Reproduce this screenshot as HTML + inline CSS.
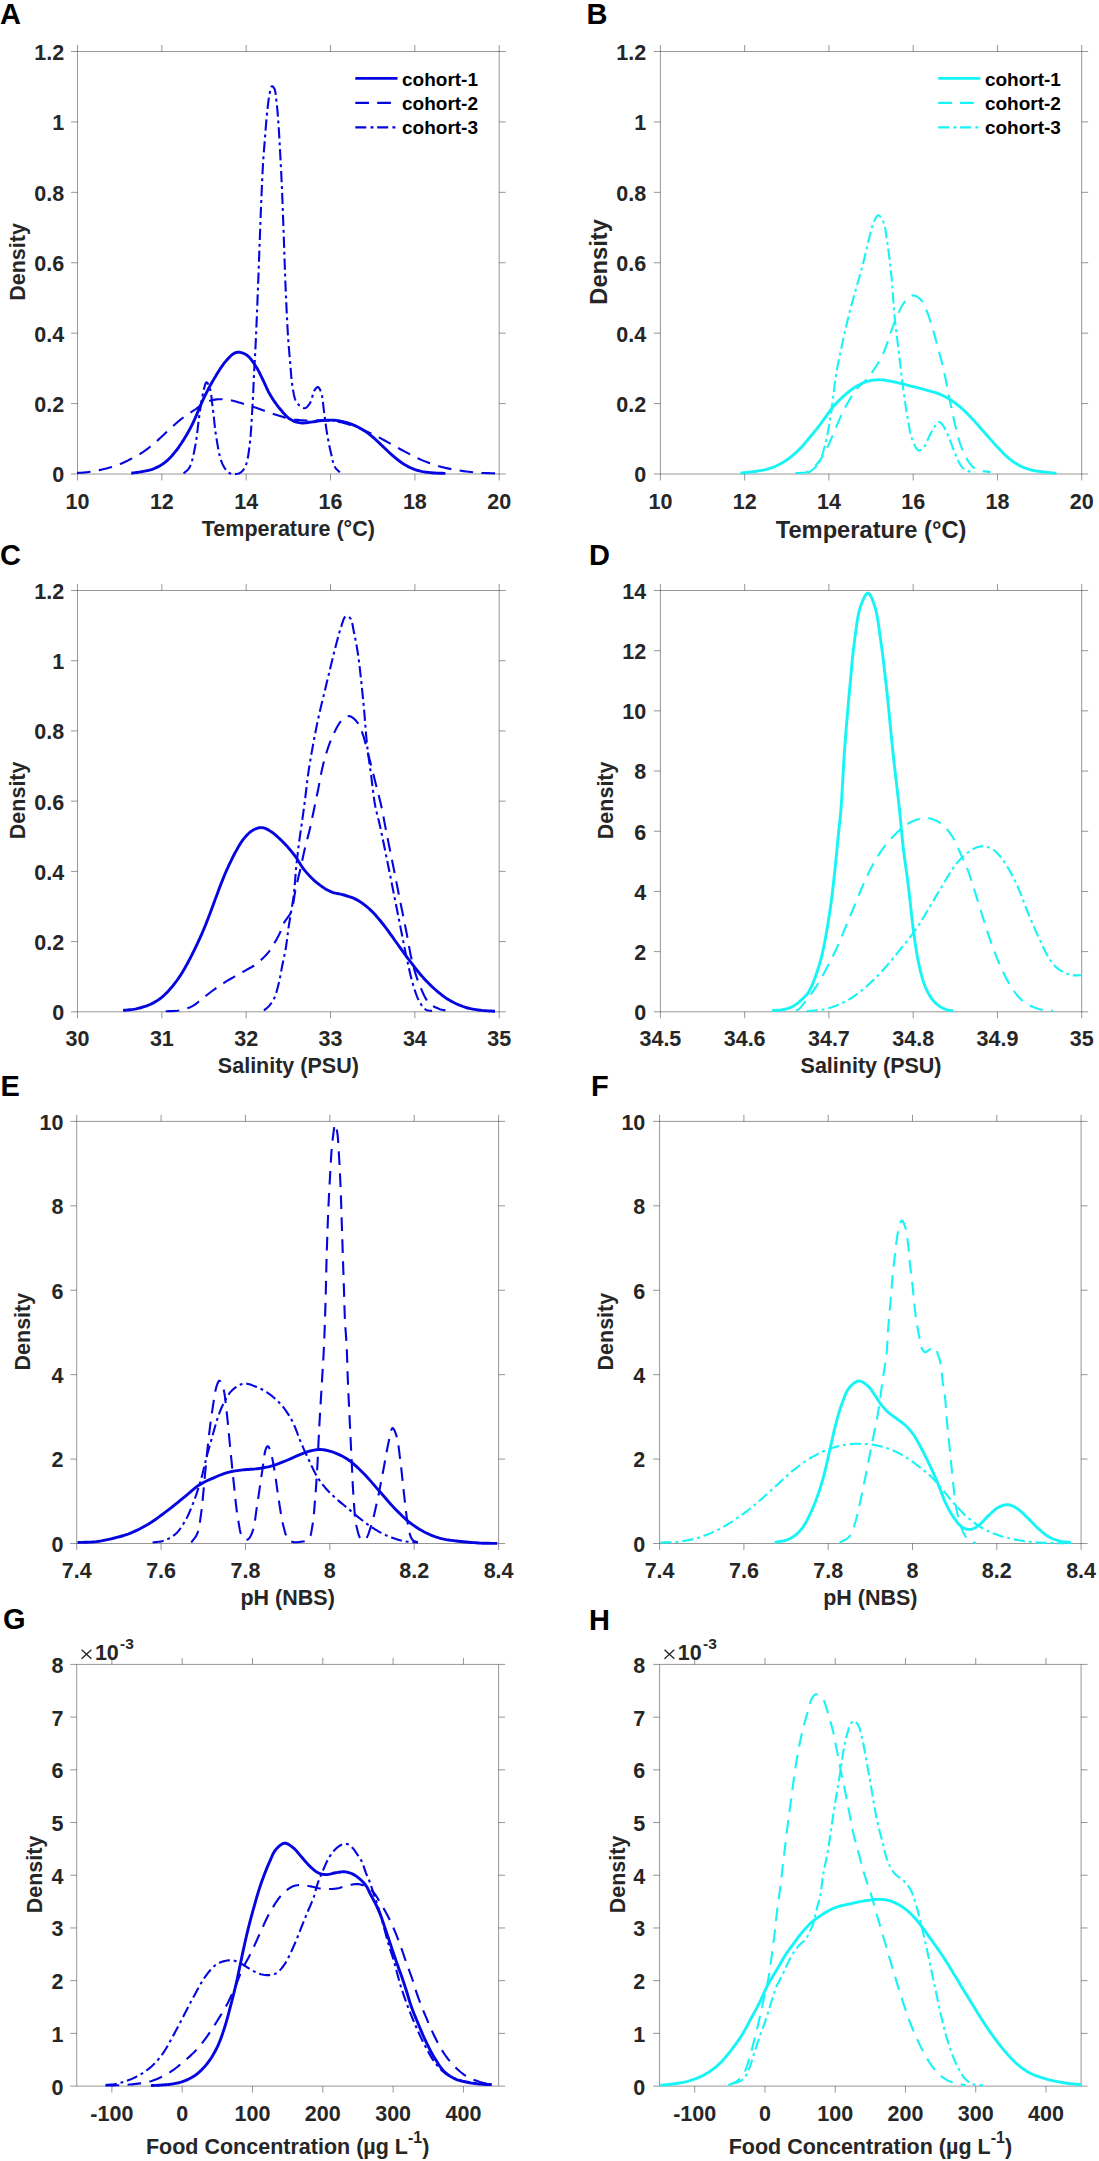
<!DOCTYPE html>
<html><head><meta charset="utf-8"><style>
html,body{margin:0;padding:0;background:#fff;}
svg{display:block;}
.t{font-family:"Liberation Sans",sans-serif;font-weight:bold;font-size:21.5px;fill:#262626;}
.L{font-family:"Liberation Sans",sans-serif;font-weight:bold;font-size:29px;fill:#000;}
.lg{font-family:"Liberation Sans",sans-serif;font-weight:bold;font-size:19px;fill:#000;}
</style></head><body>
<svg width="1099" height="2161" viewBox="0 0 1099 2161">
<rect width="1099" height="2161" fill="#fff"/>
<path d="M77.5,51.5H499.2V474.0H77.5ZM77.50,474.0v6.5M77.50,51.5v-6.5M161.84,474.0v6.5M161.84,51.5v-6.5M246.18,474.0v6.5M246.18,51.5v-6.5M330.52,474.0v6.5M330.52,51.5v-6.5M414.86,474.0v6.5M414.86,51.5v-6.5M499.20,474.0v6.5M499.20,51.5v-6.5M77.5,474.00h-6.5M499.2,474.00h6.5M77.5,403.58h-6.5M499.2,403.58h6.5M77.5,333.17h-6.5M499.2,333.17h6.5M77.5,262.75h-6.5M499.2,262.75h6.5M77.5,192.33h-6.5M499.2,192.33h6.5M77.5,121.92h-6.5M499.2,121.92h6.5M77.5,51.50h-6.5M499.2,51.50h6.5" fill="none" stroke="#262626" stroke-width="1" stroke-opacity="0.48"/>
<path d="M131.30,473.20 L132.61,473.02 L133.92,472.85 L135.23,472.68 L136.54,472.51 L137.85,472.34 L139.16,472.15 L140.48,471.94 L141.80,471.70 L143.18,471.44 L144.58,471.17 L145.99,470.90 L147.39,470.60 L148.79,470.28 L150.16,469.92 L151.50,469.53 L152.80,469.10 L153.96,468.66 L155.11,468.19 L156.22,467.69 L157.32,467.17 L158.39,466.61 L159.45,466.03 L160.48,465.43 L161.50,464.80 L162.48,464.16 L163.43,463.49 L164.37,462.80 L165.28,462.08 L166.18,461.34 L167.07,460.58 L167.94,459.80 L168.80,459.00 L169.66,458.16 L170.51,457.29 L171.34,456.39 L172.16,455.48 L172.96,454.55 L173.75,453.60 L174.53,452.65 L175.30,451.70 L176.06,450.74 L176.81,449.77 L177.54,448.79 L178.26,447.80 L178.98,446.80 L179.68,445.78 L180.39,444.75 L181.10,443.70 L181.86,442.56 L182.61,441.40 L183.36,440.22 L184.11,439.02 L184.85,437.82 L185.58,436.61 L186.30,435.40 L187.00,434.20 L187.68,433.02 L188.34,431.84 L188.99,430.65 L189.64,429.47 L190.27,428.28 L190.89,427.09 L191.50,425.89 L192.10,424.70 L192.67,423.53 L193.24,422.35 L193.79,421.17 L194.33,419.99 L194.86,418.81 L195.38,417.63 L195.89,416.46 L196.40,415.30 L196.86,414.21 L197.30,413.15 L197.73,412.10 L198.15,411.05 L198.58,409.99 L199.02,408.90 L199.49,407.78 L200.00,406.60 L200.69,405.03 L201.42,403.39 L202.18,401.69 L202.97,399.95 L203.79,398.18 L204.63,396.39 L205.50,394.59 L206.40,392.80 L207.43,390.79 L208.51,388.74 L209.63,386.65 L210.78,384.56 L211.95,382.47 L213.13,380.40 L214.32,378.37 L215.50,376.40 L216.60,374.59 L217.71,372.78 L218.82,370.99 L219.94,369.22 L221.07,367.50 L222.22,365.83 L223.40,364.23 L224.60,362.70 L225.70,361.37 L226.83,360.02 L227.98,358.70 L229.15,357.44 L230.31,356.26 L231.47,355.20 L232.60,354.31 L233.70,353.60 L234.40,353.23 L235.08,352.93 L235.75,352.68 L236.42,352.50 L237.09,352.37 L237.77,352.29 L238.47,352.27 L239.20,352.30 L240.15,352.41 L241.15,352.61 L242.18,352.89 L243.22,353.25 L244.27,353.70 L245.31,354.22 L246.33,354.82 L247.30,355.50 L248.53,356.55 L249.75,357.82 L250.94,359.24 L252.11,360.79 L253.24,362.41 L254.33,364.07 L255.39,365.71 L256.40,367.30 L257.33,368.83 L258.21,370.37 L259.04,371.94 L259.84,373.52 L260.63,375.12 L261.41,376.73 L262.19,378.36 L263.00,380.00 L263.86,381.77 L264.69,383.58 L265.50,385.42 L266.33,387.26 L267.17,389.12 L268.05,390.96 L268.99,392.79 L270.00,394.60 L271.16,396.52 L272.39,398.46 L273.68,400.41 L275.02,402.34 L276.38,404.23 L277.76,406.07 L279.14,407.83 L280.50,409.50 L281.65,410.88 L282.79,412.24 L283.93,413.57 L285.09,414.84 L286.26,416.05 L287.46,417.17 L288.70,418.19 L290.00,419.10 L291.23,419.83 L292.50,420.49 L293.80,421.08 L295.13,421.59 L296.48,422.03 L297.84,422.39 L299.22,422.68 L300.60,422.90 L302.03,423.02 L303.49,423.01 L304.96,422.91 L306.45,422.74 L307.94,422.53 L309.43,422.30 L310.92,422.08 L312.40,421.90 L313.87,421.73 L315.33,421.53 L316.79,421.31 L318.25,421.09 L319.71,420.87 L321.17,420.68 L322.63,420.52 L324.10,420.40 L325.57,420.31 L327.05,420.24 L328.53,420.18 L330.01,420.15 L331.48,420.15 L332.96,420.19 L334.43,420.27 L335.90,420.40 L337.37,420.58 L338.85,420.80 L340.32,421.06 L341.78,421.35 L343.24,421.69 L344.70,422.06 L346.15,422.46 L347.60,422.90 L349.08,423.38 L350.56,423.90 L352.04,424.46 L353.50,425.05 L354.97,425.68 L356.42,426.35 L357.86,427.06 L359.30,427.80 L360.81,428.63 L362.31,429.51 L363.80,430.43 L365.28,431.39 L366.75,432.39 L368.22,433.42 L369.66,434.50 L371.10,435.60 L372.60,436.83 L374.08,438.12 L375.55,439.46 L377.00,440.84 L378.45,442.24 L379.89,443.64 L381.34,445.03 L382.80,446.40 L384.26,447.76 L385.71,449.15 L387.16,450.54 L388.61,451.93 L390.06,453.30 L391.53,454.64 L393.00,455.95 L394.50,457.20 L395.94,458.36 L397.39,459.51 L398.85,460.63 L400.32,461.72 L401.79,462.77 L403.28,463.77 L404.79,464.72 L406.30,465.60 L407.72,466.37 L409.15,467.09 L410.58,467.76 L412.03,468.39 L413.48,468.98 L414.96,469.53 L416.47,470.03 L418.00,470.50 L419.64,470.94 L421.32,471.32 L423.02,471.65 L424.75,471.94 L426.49,472.19 L428.23,472.41 L429.97,472.61 L431.70,472.80 L433.41,472.96 L435.12,473.07 L436.83,473.15 L438.54,473.20 L440.26,473.25 L441.97,473.29 L443.69,473.34 L445.40,473.40" fill="none" stroke="#0505e0" stroke-width="2.9" stroke-linejoin="round"/>
<path d="M77.00,473.00 L78.44,472.88 L79.88,472.78 L81.31,472.68 L82.75,472.58 L84.19,472.47 L85.64,472.34 L87.11,472.18 L88.60,472.00 L90.25,471.77 L91.93,471.51 L93.63,471.23 L95.35,470.92 L97.07,470.59 L98.79,470.25 L100.50,469.88 L102.20,469.50 L103.91,469.10 L105.62,468.69 L107.33,468.25 L109.03,467.80 L110.73,467.32 L112.43,466.82 L114.12,466.28 L115.80,465.70 L117.51,465.07 L119.21,464.40 L120.90,463.71 L122.59,462.97 L124.28,462.22 L125.95,461.43 L127.63,460.63 L129.30,459.80 L131.02,458.93 L132.74,458.05 L134.45,457.14 L136.16,456.20 L137.86,455.24 L139.55,454.23 L141.23,453.19 L142.90,452.10 L144.64,450.90 L146.36,449.65 L148.08,448.35 L149.78,447.01 L151.47,445.64 L153.15,444.24 L154.83,442.83 L156.50,441.40 L158.21,439.89 L159.91,438.34 L161.59,436.75 L163.26,435.15 L164.94,433.53 L166.62,431.93 L168.30,430.35 L170.00,428.80 L171.69,427.29 L173.39,425.77 L175.10,424.26 L176.81,422.76 L178.52,421.29 L180.23,419.87 L181.92,418.50 L183.60,417.20 L185.08,416.12 L186.55,415.10 L188.03,414.12 L189.49,413.18 L190.95,412.26 L192.39,411.35 L193.81,410.43 L195.20,409.50 L196.45,408.61 L197.65,407.70 L198.83,406.77 L200.00,405.86 L201.17,404.98 L202.37,404.15 L203.61,403.38 L204.90,402.70 L206.25,402.09 L207.64,401.53 L209.07,401.03 L210.51,400.58 L211.99,400.19 L213.48,399.86 L214.98,399.60 L216.50,399.40 L218.15,399.27 L219.84,399.23 L221.56,399.26 L223.30,399.36 L225.04,399.52 L226.76,399.71 L228.45,399.95 L230.10,400.20 L231.60,400.47 L233.06,400.80 L234.50,401.16 L235.92,401.56 L237.34,401.98 L238.77,402.42 L240.22,402.86 L241.70,403.30 L243.35,403.78 L245.03,404.27 L246.73,404.78 L248.44,405.31 L250.16,405.84 L251.88,406.38 L253.60,406.94 L255.30,407.50 L257.00,408.08 L258.71,408.69 L260.41,409.31 L262.11,409.94 L263.80,410.57 L265.50,411.19 L267.20,411.81 L268.90,412.40 L270.61,412.98 L272.34,413.57 L274.09,414.16 L275.84,414.74 L277.56,415.30 L279.24,415.84 L280.86,416.34 L282.40,416.80 L283.54,417.13 L284.61,417.45 L285.63,417.75 L286.63,418.03 L287.64,418.29 L288.67,418.54 L289.75,418.78 L290.90,419.00 L292.43,419.26 L294.03,419.49 L295.68,419.69 L297.38,419.87 L299.13,420.03 L300.92,420.18 L302.75,420.30 L304.60,420.40 L306.87,420.47 L309.23,420.47 L311.66,420.42 L314.13,420.36 L316.64,420.30 L319.15,420.27 L321.64,420.29 L324.10,420.40 L326.54,420.56 L328.97,420.73 L331.40,420.93 L333.83,421.18 L336.26,421.49 L338.72,421.87 L341.19,422.33 L343.70,422.90 L346.60,423.69 L349.59,424.64 L352.63,425.71 L355.68,426.87 L358.70,428.08 L361.66,429.31 L364.50,430.53 L367.20,431.70 L369.31,432.64 L371.32,433.58 L373.25,434.52 L375.13,435.47 L376.99,436.44 L378.87,437.43 L380.80,438.44 L382.80,439.50 L385.15,440.76 L387.55,442.07 L389.99,443.44 L392.46,444.82 L394.95,446.22 L397.44,447.61 L399.93,448.98 L402.40,450.30 L404.83,451.59 L407.25,452.88 L409.68,454.16 L412.10,455.43 L414.54,456.67 L416.98,457.87 L419.43,459.02 L421.90,460.10 L424.32,461.10 L426.75,462.06 L429.19,462.97 L431.64,463.85 L434.10,464.68 L436.56,465.46 L439.03,466.21 L441.50,466.90 L443.93,467.53 L446.37,468.11 L448.82,468.65 L451.27,469.14 L453.73,469.60 L456.19,470.02 L458.64,470.42 L461.10,470.80 L463.55,471.15 L466.02,471.46 L468.50,471.75 L470.97,472.00 L473.44,472.23 L475.87,472.44 L478.26,472.63 L480.60,472.80 L482.64,472.93 L484.64,473.03 L486.61,473.11 L488.55,473.17 L490.49,473.22 L492.41,473.28 L494.35,473.33 L496.30,473.40" fill="none" stroke="#0505e0" stroke-width="2.1" stroke-dasharray="13.6 8.4" stroke-linejoin="round"/>
<path d="M183.60,473.40 L184.34,472.71 L185.09,472.08 L185.85,471.46 L186.61,470.84 L187.35,470.17 L188.07,469.43 L188.76,468.59 L189.40,467.60 L190.36,465.66 L191.23,463.39 L192.01,460.85 L192.73,458.09 L193.39,455.20 L194.02,452.23 L194.61,449.24 L195.20,446.30 L195.83,442.87 L196.38,439.29 L196.87,435.60 L197.31,431.84 L197.74,428.08 L198.17,424.35 L198.62,420.71 L199.10,417.20 L199.55,414.12 L200.00,411.02 L200.44,407.95 L200.90,404.93 L201.36,401.99 L201.85,399.17 L202.36,396.49 L202.90,394.00 L203.31,392.18 L203.73,390.25 L204.15,388.31 L204.59,386.48 L205.05,384.85 L205.51,383.54 L206.00,382.66 L206.50,382.30 L206.89,382.41 L207.31,382.79 L207.75,383.40 L208.19,384.18 L208.63,385.09 L209.05,386.08 L209.44,387.10 L209.80,388.10 L210.33,389.92 L210.77,392.00 L211.14,394.30 L211.46,396.77 L211.76,399.37 L212.05,402.05 L212.36,404.77 L212.70,407.50 L213.15,411.05 L213.58,414.82 L214.00,418.74 L214.42,422.76 L214.87,426.81 L215.36,430.82 L215.89,434.74 L216.50,438.50 L217.07,441.88 L217.64,445.31 L218.23,448.74 L218.86,452.11 L219.56,455.35 L220.35,458.40 L221.25,461.20 L222.30,463.70 L223.10,465.29 L223.95,466.83 L224.85,468.28 L225.80,469.62 L226.79,470.83 L227.84,471.88 L228.94,472.75 L230.10,473.40 L231.21,473.80 L232.43,474.06 L233.71,474.18 L235.02,474.17 L236.33,474.04 L237.58,473.80 L238.75,473.45 L239.80,473.00 L240.72,472.45 L241.57,471.77 L242.36,470.98 L243.09,470.08 L243.77,469.10 L244.41,468.03 L245.02,466.89 L245.60,465.70 L246.36,463.82 L246.99,461.74 L247.52,459.49 L247.98,457.08 L248.39,454.54 L248.76,451.88 L249.12,449.13 L249.50,446.30 L250.01,442.10 L250.46,437.55 L250.85,432.74 L251.20,427.74 L251.52,422.64 L251.82,417.52 L252.11,412.44 L252.40,407.50 L252.69,402.60 L252.95,397.60 L253.20,392.57 L253.43,387.56 L253.65,382.63 L253.87,377.82 L254.08,373.19 L254.30,368.80 L254.47,365.60 L254.64,362.62 L254.80,359.78 L254.96,357.01 L255.11,354.22 L255.27,351.34 L255.44,348.30 L255.60,345.00 L255.83,340.07 L256.07,334.81 L256.31,329.27 L256.55,323.54 L256.79,317.67 L257.03,311.75 L257.27,305.84 L257.50,300.00 L257.74,293.88 L257.98,287.69 L258.22,281.44 L258.46,275.16 L258.69,268.87 L258.93,262.56 L259.16,256.27 L259.40,250.00 L259.64,243.70 L259.87,237.33 L260.10,230.93 L260.34,224.55 L260.57,218.22 L260.81,211.99 L261.05,205.91 L261.30,200.00 L261.51,195.00 L261.73,190.07 L261.94,185.21 L262.15,180.44 L262.38,175.77 L262.61,171.21 L262.85,166.79 L263.10,162.50 L263.32,159.12 L263.55,155.86 L263.78,152.69 L264.02,149.60 L264.26,146.55 L264.51,143.54 L264.75,140.53 L265.00,137.50 L265.23,134.62 L265.45,131.76 L265.67,128.91 L265.90,126.09 L266.13,123.28 L266.37,120.50 L266.63,117.74 L266.90,115.00 L267.17,112.38 L267.44,109.72 L267.72,107.04 L268.02,104.40 L268.33,101.83 L268.66,99.38 L269.01,97.09 L269.40,95.00 L269.67,93.62 L269.94,92.18 L270.21,90.75 L270.49,89.41 L270.80,88.21 L271.13,87.24 L271.49,86.57 L271.90,86.25 L272.18,86.25 L272.50,86.38 L272.83,86.62 L273.17,86.95 L273.51,87.35 L273.83,87.79 L274.13,88.27 L274.40,88.75 L274.80,89.72 L275.12,90.88 L275.38,92.20 L275.59,93.65 L275.77,95.19 L275.93,96.78 L276.11,98.39 L276.30,100.00 L276.56,102.08 L276.81,104.24 L277.04,106.47 L277.26,108.77 L277.48,111.16 L277.69,113.61 L277.89,116.14 L278.10,118.75 L278.36,122.26 L278.61,125.94 L278.85,129.76 L279.09,133.70 L279.32,137.72 L279.55,141.80 L279.77,145.90 L280.00,150.00 L280.25,154.49 L280.49,159.01 L280.74,163.57 L280.98,168.20 L281.21,172.89 L281.45,177.67 L281.68,182.53 L281.90,187.50 L282.15,193.41 L282.40,199.49 L282.64,205.72 L282.88,212.05 L283.11,218.43 L283.34,224.83 L283.57,231.20 L283.80,237.50 L284.03,243.75 L284.24,250.00 L284.45,256.25 L284.66,262.50 L284.88,268.75 L285.10,275.00 L285.34,281.25 L285.60,287.50 L285.88,293.89 L286.17,300.48 L286.47,307.15 L286.79,313.78 L287.11,320.25 L287.44,326.44 L287.77,332.23 L288.10,337.50 L288.31,340.63 L288.53,343.50 L288.74,346.19 L288.95,348.76 L289.17,351.28 L289.40,353.83 L289.64,356.48 L289.90,359.30 L290.20,362.84 L290.49,366.61 L290.78,370.51 L291.10,374.44 L291.44,378.32 L291.83,382.05 L292.28,385.54 L292.80,388.70 L293.17,390.73 L293.52,392.68 L293.88,394.56 L294.27,396.35 L294.72,398.04 L295.26,399.62 L295.91,401.08 L296.70,402.40 L297.50,403.45 L298.42,404.50 L299.42,405.50 L300.49,406.41 L301.57,407.18 L302.64,407.76 L303.66,408.12 L304.60,408.20 L305.41,408.01 L306.20,407.58 L306.98,406.95 L307.73,406.18 L308.46,405.29 L309.15,404.34 L309.80,403.36 L310.40,402.40 L311.04,401.12 L311.58,399.63 L312.03,398.01 L312.44,396.34 L312.84,394.69 L313.26,393.13 L313.73,391.74 L314.30,390.60 L314.71,389.96 L315.15,389.32 L315.61,388.71 L316.09,388.16 L316.56,387.70 L317.02,387.35 L317.47,387.14 L317.90,387.10 L318.36,387.28 L318.81,387.67 L319.25,388.25 L319.68,388.97 L320.09,389.80 L320.48,390.70 L320.85,391.65 L321.20,392.60 L321.74,394.44 L322.19,396.59 L322.56,398.98 L322.88,401.55 L323.18,404.23 L323.46,406.94 L323.76,409.62 L324.10,412.20 L324.47,414.85 L324.83,417.53 L325.18,420.24 L325.53,422.96 L325.90,425.68 L326.27,428.38 L326.67,431.06 L327.10,433.70 L327.53,436.21 L327.99,438.73 L328.46,441.25 L328.94,443.74 L329.44,446.20 L329.95,448.60 L330.47,450.94 L331.00,453.20 L331.44,455.08 L331.86,456.97 L332.27,458.84 L332.70,460.65 L333.17,462.39 L333.67,464.03 L334.25,465.54 L334.90,466.90 L335.43,467.76 L336.00,468.53 L336.61,469.23 L337.24,469.88 L337.89,470.50 L338.53,471.11 L339.18,471.74 L339.80,472.40" fill="none" stroke="#0505e0" stroke-width="2.1" stroke-dasharray="11.2 3.9 2.9 3.9" stroke-linejoin="round"/>
<text x="77.50" y="508.50" text-anchor="middle" class="t">10</text>
<text x="161.84" y="508.50" text-anchor="middle" class="t">12</text>
<text x="246.18" y="508.50" text-anchor="middle" class="t">14</text>
<text x="330.52" y="508.50" text-anchor="middle" class="t">16</text>
<text x="414.86" y="508.50" text-anchor="middle" class="t">18</text>
<text x="499.20" y="508.50" text-anchor="middle" class="t">20</text>
<text x="64.20" y="482.40" text-anchor="end" class="t">0</text>
<text x="64.20" y="411.98" text-anchor="end" class="t">0.2</text>
<text x="64.20" y="341.57" text-anchor="end" class="t">0.4</text>
<text x="64.20" y="271.15" text-anchor="end" class="t">0.6</text>
<text x="64.20" y="200.73" text-anchor="end" class="t">0.8</text>
<text x="64.20" y="130.32" text-anchor="end" class="t">1</text>
<text x="64.20" y="59.90" text-anchor="end" class="t">1.2</text>
<text x="288.35" y="535.50" text-anchor="middle" class="t">Temperature (°C)</text>
<text transform="translate(24.70,261.95) rotate(-90)" text-anchor="middle" class="t">Density</text>
<text x="0" y="24" class="L">A</text>
<path d="M660.4,51.5H1081.7V474.0H660.4ZM660.40,474.0v6.5M660.40,51.5v-6.5M744.66,474.0v6.5M744.66,51.5v-6.5M828.92,474.0v6.5M828.92,51.5v-6.5M913.18,474.0v6.5M913.18,51.5v-6.5M997.44,474.0v6.5M997.44,51.5v-6.5M1081.70,474.0v6.5M1081.70,51.5v-6.5M660.4,474.00h-6.5M1081.7,474.00h6.5M660.4,403.58h-6.5M1081.7,403.58h6.5M660.4,333.17h-6.5M1081.7,333.17h6.5M660.4,262.75h-6.5M1081.7,262.75h6.5M660.4,192.33h-6.5M1081.7,192.33h6.5M660.4,121.92h-6.5M1081.7,121.92h6.5M660.4,51.50h-6.5M1081.7,51.50h6.5" fill="none" stroke="#262626" stroke-width="1" stroke-opacity="0.48"/>
<path d="M740.40,473.20 L742.17,473.00 L743.95,472.80 L745.72,472.61 L747.50,472.42 L749.27,472.22 L751.05,472.01 L752.82,471.77 L754.60,471.50 L756.41,471.22 L758.23,470.94 L760.05,470.65 L761.88,470.33 L763.69,469.99 L765.51,469.59 L767.31,469.13 L769.10,468.60 L770.96,467.98 L772.81,467.30 L774.66,466.57 L776.50,465.78 L778.33,464.93 L780.14,464.02 L781.93,463.04 L783.70,462.00 L785.59,460.79 L787.47,459.47 L789.34,458.07 L791.19,456.61 L793.00,455.09 L794.78,453.54 L796.52,451.97 L798.20,450.40 L799.78,448.86 L801.30,447.28 L802.78,445.67 L804.23,444.03 L805.65,442.37 L807.06,440.69 L808.47,439.00 L809.90,437.30 L811.37,435.53 L812.84,433.75 L814.29,431.95 L815.74,430.13 L817.19,428.29 L818.63,426.44 L820.07,424.58 L821.50,422.70 L822.97,420.72 L824.42,418.69 L825.86,416.62 L827.30,414.55 L828.74,412.49 L830.20,410.48 L831.69,408.54 L833.20,406.70 L834.60,405.10 L836.02,403.55 L837.45,402.04 L838.89,400.58 L840.35,399.15 L841.82,397.77 L843.31,396.42 L844.80,395.10 L846.22,393.88 L847.66,392.67 L849.10,391.50 L850.56,390.35 L852.02,389.26 L853.50,388.21 L854.99,387.22 L856.50,386.30 L857.91,385.49 L859.34,384.73 L860.78,384.01 L862.22,383.33 L863.68,382.71 L865.15,382.14 L866.62,381.64 L868.10,381.20 L869.53,380.84 L870.96,380.53 L872.39,380.28 L873.83,380.09 L875.29,379.94 L876.77,379.85 L878.27,379.80 L879.80,379.80 L881.57,379.87 L883.39,380.04 L885.24,380.27 L887.11,380.56 L889.00,380.90 L890.88,381.26 L892.75,381.63 L894.60,382.00 L896.43,382.38 L898.24,382.80 L900.06,383.24 L901.87,383.71 L903.67,384.18 L905.48,384.66 L907.29,385.14 L909.10,385.60 L910.92,386.05 L912.75,386.51 L914.58,386.96 L916.41,387.41 L918.23,387.87 L920.06,388.33 L921.88,388.81 L923.70,389.30 L925.53,389.80 L927.38,390.29 L929.23,390.78 L931.08,391.29 L932.91,391.81 L934.72,392.37 L936.48,392.96 L938.20,393.60 L939.75,394.22 L941.26,394.87 L942.74,395.54 L944.20,396.24 L945.64,396.97 L947.06,397.74 L948.48,398.55 L949.90,399.40 L951.39,400.35 L952.87,401.36 L954.33,402.41 L955.78,403.50 L957.23,404.63 L958.66,405.79 L960.08,406.98 L961.50,408.20 L963.00,409.53 L964.48,410.91 L965.95,412.33 L967.42,413.79 L968.87,415.27 L970.32,416.77 L971.76,418.28 L973.20,419.80 L974.67,421.38 L976.13,422.99 L977.58,424.63 L979.02,426.28 L980.46,427.94 L981.91,429.60 L983.35,431.26 L984.80,432.90 L986.26,434.55 L987.71,436.20 L989.17,437.86 L990.63,439.52 L992.09,441.16 L993.55,442.80 L995.02,444.41 L996.50,446.00 L997.93,447.53 L999.36,449.07 L1000.78,450.60 L1002.22,452.11 L1003.66,453.59 L1005.12,455.02 L1006.60,456.40 L1008.10,457.70 L1009.51,458.86 L1010.94,459.98 L1012.39,461.06 L1013.85,462.09 L1015.32,463.08 L1016.80,464.01 L1018.30,464.89 L1019.80,465.70 L1021.23,466.40 L1022.69,467.05 L1024.17,467.66 L1025.65,468.21 L1027.13,468.72 L1028.59,469.19 L1030.02,469.61 L1031.40,470.00 L1032.51,470.28 L1033.56,470.51 L1034.58,470.71 L1035.59,470.88 L1036.62,471.03 L1037.68,471.18 L1038.80,471.33 L1040.00,471.50 L1041.80,471.74 L1043.73,471.97 L1045.76,472.20 L1047.87,472.42 L1050.02,472.64 L1052.18,472.86 L1054.31,473.08 L1056.40,473.30" fill="none" stroke="#16f4f5" stroke-width="2.9" stroke-linejoin="round"/>
<path d="M795.30,473.20 L796.96,473.04 L798.65,472.95 L800.35,472.89 L802.05,472.82 L803.72,472.68 L805.34,472.45 L806.91,472.07 L808.40,471.50 L809.85,470.71 L811.23,469.76 L812.56,468.67 L813.84,467.46 L815.08,466.16 L816.28,464.80 L817.45,463.41 L818.60,462.00 L819.82,460.41 L820.98,458.74 L822.10,457.01 L823.18,455.21 L824.22,453.35 L825.25,451.44 L826.28,449.49 L827.30,447.50 L828.46,445.14 L829.58,442.66 L830.68,440.11 L831.77,437.50 L832.84,434.86 L833.92,432.23 L835.00,429.64 L836.10,427.10 L837.16,424.69 L838.20,422.30 L839.24,419.93 L840.28,417.56 L841.34,415.21 L842.44,412.86 L843.59,410.53 L844.80,408.20 L846.12,405.76 L847.51,403.27 L848.94,400.76 L850.41,398.28 L851.91,395.85 L853.44,393.52 L854.97,391.33 L856.50,389.30 L857.75,387.82 L859.04,386.47 L860.34,385.21 L861.65,384.01 L862.96,382.83 L864.24,381.65 L865.49,380.41 L866.70,379.10 L867.87,377.72 L869.00,376.33 L870.11,374.93 L871.20,373.49 L872.27,372.03 L873.32,370.53 L874.36,368.99 L875.40,367.40 L876.56,365.56 L877.71,363.65 L878.86,361.69 L879.98,359.68 L881.08,357.63 L882.14,355.57 L883.15,353.49 L884.10,351.40 L884.99,349.28 L885.79,347.13 L886.55,344.96 L887.26,342.77 L887.97,340.56 L888.68,338.35 L889.41,336.12 L890.20,333.90 L891.06,331.54 L891.93,329.13 L892.82,326.69 L893.72,324.24 L894.64,321.83 L895.57,319.46 L896.53,317.18 L897.50,315.00 L898.34,313.18 L899.18,311.39 L900.02,309.62 L900.87,307.91 L901.76,306.26 L902.69,304.70 L903.66,303.24 L904.70,301.90 L905.62,300.82 L906.58,299.72 L907.58,298.66 L908.60,297.68 L909.64,296.82 L910.70,296.12 L911.75,295.64 L912.80,295.40 L913.80,295.43 L914.84,295.66 L915.89,296.07 L916.95,296.63 L917.99,297.31 L918.99,298.06 L919.93,298.87 L920.80,299.70 L921.71,300.74 L922.54,301.91 L923.29,303.19 L924.00,304.56 L924.66,306.01 L925.31,307.51 L925.95,309.05 L926.60,310.60 L927.40,312.56 L928.16,314.62 L928.90,316.76 L929.61,318.97 L930.31,321.23 L931.01,323.51 L931.70,325.81 L932.40,328.10 L933.15,330.56 L933.89,333.05 L934.62,335.56 L935.34,338.10 L936.06,340.67 L936.78,343.26 L937.49,345.87 L938.20,348.50 L938.96,351.32 L939.71,354.15 L940.46,357.00 L941.21,359.88 L941.95,362.79 L942.68,365.74 L943.40,368.75 L944.10,371.80 L944.86,375.29 L945.60,378.87 L946.32,382.53 L947.03,386.24 L947.74,389.96 L948.45,393.66 L949.17,397.32 L949.90,400.90 L950.61,404.27 L951.31,407.63 L952.02,410.98 L952.73,414.31 L953.46,417.59 L954.19,420.83 L954.94,424.00 L955.70,427.10 L956.38,429.81 L957.04,432.49 L957.71,435.13 L958.39,437.73 L959.10,440.27 L959.85,442.75 L960.64,445.16 L961.50,447.50 L962.30,449.50 L963.13,451.48 L963.99,453.43 L964.89,455.32 L965.82,457.14 L966.78,458.87 L967.77,460.49 L968.80,462.00 L969.62,463.12 L970.43,464.20 L971.25,465.21 L972.09,466.16 L972.98,467.05 L973.94,467.88 L974.97,468.63 L976.10,469.30 L977.61,469.97 L979.28,470.47 L981.08,470.85 L982.96,471.15 L984.89,471.39 L986.83,471.62 L988.74,471.88 L990.60,472.20" fill="none" stroke="#16f4f5" stroke-width="2.1" stroke-dasharray="13.6 8.4" stroke-linejoin="round"/>
<path d="M808.40,473.20 L809.71,472.02 L811.06,470.88 L812.43,469.77 L813.79,468.64 L815.12,467.48 L816.38,466.25 L817.55,464.93 L818.60,463.50 L819.60,461.80 L820.48,460.01 L821.24,458.14 L821.93,456.17 L822.56,454.13 L823.16,452.00 L823.77,449.79 L824.40,447.50 L825.24,444.34 L826.04,441.01 L826.80,437.52 L827.54,433.90 L828.25,430.16 L828.94,426.32 L829.63,422.39 L830.30,418.40 L831.09,413.31 L831.82,407.90 L832.53,402.28 L833.21,396.55 L833.89,390.82 L834.59,385.20 L835.32,379.79 L836.10,374.70 L836.77,370.78 L837.46,367.03 L838.16,363.40 L838.87,359.85 L839.60,356.34 L840.35,352.82 L841.12,349.26 L841.90,345.60 L842.75,341.65 L843.62,337.62 L844.51,333.56 L845.43,329.48 L846.35,325.42 L847.29,321.40 L848.24,317.45 L849.20,313.60 L850.08,310.18 L850.98,306.83 L851.90,303.53 L852.82,300.28 L853.74,297.04 L854.67,293.81 L855.59,290.57 L856.50,287.30 L857.41,284.02 L858.33,280.73 L859.26,277.44 L860.17,274.16 L861.09,270.87 L861.98,267.60 L862.85,264.34 L863.70,261.10 L864.49,257.94 L865.26,254.73 L866.01,251.50 L866.74,248.30 L867.46,245.15 L868.18,242.10 L868.89,239.17 L869.60,236.40 L870.13,234.34 L870.64,232.32 L871.14,230.35 L871.63,228.45 L872.14,226.63 L872.68,224.90 L873.26,223.29 L873.90,221.80 L874.39,220.74 L874.91,219.64 L875.44,218.56 L876.00,217.55 L876.56,216.66 L877.13,215.96 L877.72,215.48 L878.30,215.30 L878.92,215.44 L879.58,215.88 L880.26,216.56 L880.95,217.42 L881.62,218.43 L882.26,219.53 L882.86,220.67 L883.40,221.80 L884.10,223.61 L884.66,225.64 L885.13,227.87 L885.54,230.25 L885.89,232.76 L886.24,235.38 L886.60,238.07 L887.00,240.80 L887.58,244.63 L888.17,248.71 L888.75,252.98 L889.32,257.41 L889.87,261.94 L890.41,266.53 L890.92,271.13 L891.40,275.70 L891.87,280.66 L892.28,285.73 L892.66,290.87 L893.01,296.05 L893.37,301.23 L893.74,306.39 L894.14,311.49 L894.60,316.50 L895.08,321.15 L895.59,325.75 L896.12,330.31 L896.67,334.83 L897.23,339.34 L897.79,343.85 L898.35,348.36 L898.90,352.90 L899.44,357.48 L899.98,362.10 L900.52,366.73 L901.06,371.36 L901.61,375.95 L902.16,380.49 L902.72,384.95 L903.30,389.30 L903.82,393.13 L904.35,396.93 L904.88,400.69 L905.42,404.39 L905.97,408.02 L906.54,411.57 L907.11,415.04 L907.70,418.40 L908.18,421.17 L908.63,423.92 L909.08,426.61 L909.54,429.24 L910.04,431.79 L910.60,434.25 L911.25,436.59 L912.00,438.80 L912.68,440.58 L913.42,442.45 L914.21,444.30 L915.04,446.06 L915.91,447.64 L916.79,448.95 L917.69,449.90 L918.60,450.40 L919.21,450.47 L919.85,450.37 L920.49,450.12 L921.15,449.75 L921.80,449.28 L922.45,448.73 L923.08,448.13 L923.70,447.50 L924.67,446.24 L925.59,444.64 L926.48,442.80 L927.35,440.79 L928.21,438.71 L929.10,436.64 L930.02,434.68 L931.00,432.90 L931.95,431.29 L932.94,429.53 L933.96,427.74 L934.99,426.02 L936.03,424.47 L937.05,423.22 L938.05,422.36 L939.00,422.00 L939.67,422.09 L940.34,422.42 L940.99,422.95 L941.64,423.64 L942.27,424.45 L942.90,425.32 L943.51,426.22 L944.10,427.10 L944.90,428.40 L945.67,429.87 L946.41,431.47 L947.12,433.17 L947.82,434.92 L948.51,436.71 L949.20,438.48 L949.90,440.20 L950.63,441.99 L951.36,443.83 L952.07,445.69 L952.78,447.56 L953.49,449.43 L954.21,451.26 L954.95,453.06 L955.70,454.80 L956.39,456.37 L957.06,457.96 L957.74,459.55 L958.43,461.11 L959.14,462.60 L959.88,464.00 L960.67,465.27 L961.50,466.40 L962.16,467.15 L962.83,467.83 L963.52,468.45 L964.23,469.02 L964.97,469.53 L965.72,470.00 L966.50,470.42 L967.30,470.80 L968.14,471.12 L969.02,471.37 L969.93,471.55 L970.86,471.69 L971.80,471.81 L972.74,471.92 L973.68,472.05 L974.60,472.20" fill="none" stroke="#16f4f5" stroke-width="2.1" stroke-dasharray="11.2 3.9 2.9 3.9" stroke-linejoin="round"/>
<text x="660.40" y="508.50" text-anchor="middle" class="t">10</text>
<text x="744.66" y="508.50" text-anchor="middle" class="t">12</text>
<text x="828.92" y="508.50" text-anchor="middle" class="t">14</text>
<text x="913.18" y="508.50" text-anchor="middle" class="t">16</text>
<text x="997.44" y="508.50" text-anchor="middle" class="t">18</text>
<text x="1081.70" y="508.50" text-anchor="middle" class="t">20</text>
<text x="646.10" y="482.40" text-anchor="end" class="t">0</text>
<text x="646.10" y="411.98" text-anchor="end" class="t">0.2</text>
<text x="646.10" y="341.57" text-anchor="end" class="t">0.4</text>
<text x="646.10" y="271.15" text-anchor="end" class="t">0.6</text>
<text x="646.10" y="200.73" text-anchor="end" class="t">0.8</text>
<text x="646.10" y="130.32" text-anchor="end" class="t">1</text>
<text x="646.10" y="59.90" text-anchor="end" class="t">1.2</text>
<text x="871.05" y="538.00" text-anchor="middle" class="t" style="font-size:23.7px">Temperature (°C)</text>
<text transform="translate(606.9,261.95) rotate(-90)" text-anchor="middle" class="t" style="font-size:23.7px">Density</text>
<text x="586.6" y="24" class="L">B</text>
<path d="M77.5,590.5H499.2V1011.8H77.5ZM77.50,1011.8v6.5M77.50,590.5v-6.5M161.84,1011.8v6.5M161.84,590.5v-6.5M246.18,1011.8v6.5M246.18,590.5v-6.5M330.52,1011.8v6.5M330.52,590.5v-6.5M414.86,1011.8v6.5M414.86,590.5v-6.5M499.20,1011.8v6.5M499.20,590.5v-6.5M77.5,1011.80h-6.5M499.2,1011.80h6.5M77.5,941.58h-6.5M499.2,941.58h6.5M77.5,871.37h-6.5M499.2,871.37h6.5M77.5,801.15h-6.5M499.2,801.15h6.5M77.5,730.93h-6.5M499.2,730.93h6.5M77.5,660.72h-6.5M499.2,660.72h6.5M77.5,590.50h-6.5M499.2,590.50h6.5" fill="none" stroke="#262626" stroke-width="1" stroke-opacity="0.48"/>
<path d="M123.10,1010.50 L124.74,1010.30 L126.37,1010.13 L128.01,1009.97 L129.64,1009.80 L131.28,1009.61 L132.92,1009.39 L134.56,1009.13 L136.20,1008.80 L137.94,1008.40 L139.70,1007.97 L141.47,1007.50 L143.23,1006.98 L144.98,1006.43 L146.71,1005.83 L148.38,1005.19 L150.00,1004.50 L151.46,1003.82 L152.89,1003.12 L154.27,1002.38 L155.63,1001.60 L156.97,1000.78 L158.29,999.91 L159.60,998.98 L160.90,998.00 L162.33,996.83 L163.75,995.58 L165.16,994.26 L166.55,992.88 L167.91,991.46 L169.24,990.01 L170.54,988.55 L171.80,987.10 L173.00,985.67 L174.16,984.21 L175.29,982.74 L176.40,981.24 L177.48,979.73 L178.53,978.20 L179.57,976.66 L180.60,975.10 L181.61,973.52 L182.60,971.92 L183.56,970.32 L184.50,968.69 L185.43,967.05 L186.35,965.39 L187.28,963.70 L188.20,962.00 L189.19,960.15 L190.17,958.26 L191.16,956.35 L192.13,954.41 L193.10,952.47 L194.05,950.53 L194.98,948.60 L195.90,946.70 L196.75,944.91 L197.59,943.15 L198.41,941.40 L199.22,939.65 L200.02,937.89 L200.81,936.12 L201.61,934.33 L202.40,932.50 L203.24,930.52 L204.08,928.51 L204.91,926.47 L205.74,924.42 L206.56,922.35 L207.38,920.27 L208.19,918.19 L209.00,916.10 L209.83,913.94 L210.64,911.77 L211.45,909.58 L212.26,907.39 L213.07,905.19 L213.88,902.99 L214.68,900.79 L215.50,898.60 L216.32,896.40 L217.14,894.19 L217.95,891.98 L218.77,889.76 L219.60,887.56 L220.43,885.38 L221.26,883.22 L222.10,881.10 L222.89,879.14 L223.68,877.21 L224.47,875.30 L225.27,873.41 L226.07,871.53 L226.89,869.66 L227.74,867.78 L228.60,865.90 L229.51,863.96 L230.43,862.01 L231.38,860.05 L232.34,858.10 L233.31,856.17 L234.30,854.26 L235.30,852.40 L236.30,850.60 L237.21,848.99 L238.11,847.40 L239.02,845.82 L239.94,844.29 L240.88,842.79 L241.85,841.33 L242.85,839.93 L243.90,838.60 L244.90,837.41 L245.93,836.24 L246.98,835.09 L248.06,834.00 L249.16,832.97 L250.29,832.01 L251.43,831.15 L252.60,830.40 L253.65,829.81 L254.73,829.27 L255.83,828.78 L256.94,828.36 L258.07,828.02 L259.19,827.77 L260.30,827.63 L261.40,827.60 L262.48,827.69 L263.54,827.90 L264.60,828.20 L265.65,828.60 L266.71,829.08 L267.79,829.63 L268.88,830.24 L270.00,830.90 L271.63,831.96 L273.32,833.20 L275.06,834.61 L276.82,836.13 L278.58,837.73 L280.31,839.36 L281.99,841.00 L283.60,842.60 L285.11,844.15 L286.58,845.73 L288.02,847.33 L289.42,848.96 L290.80,850.61 L292.15,852.29 L293.48,853.99 L294.80,855.70 L296.09,857.48 L297.31,859.32 L298.49,861.19 L299.66,863.08 L300.84,864.96 L302.06,866.82 L303.33,868.64 L304.70,870.40 L306.18,872.16 L307.73,873.91 L309.33,875.64 L310.98,877.34 L312.66,878.99 L314.36,880.57 L316.08,882.08 L317.80,883.50 L319.38,884.73 L320.98,885.92 L322.59,887.05 L324.22,888.13 L325.87,889.14 L327.53,890.07 L329.21,890.93 L330.90,891.70 L332.50,892.30 L334.12,892.79 L335.76,893.18 L337.41,893.52 L339.07,893.84 L340.72,894.17 L342.37,894.54 L344.00,895.00 L345.66,895.51 L347.31,896.02 L348.97,896.55 L350.62,897.10 L352.27,897.70 L353.90,898.36 L355.51,899.09 L357.10,899.90 L358.80,900.88 L360.48,901.94 L362.14,903.08 L363.79,904.29 L365.42,905.56 L367.03,906.89 L368.62,908.28 L370.20,909.70 L371.91,911.33 L373.59,913.05 L375.24,914.85 L376.88,916.71 L378.50,918.61 L380.11,920.55 L381.71,922.52 L383.30,924.50 L384.98,926.64 L386.63,928.83 L388.27,931.08 L389.90,933.35 L391.52,935.65 L393.14,937.94 L394.77,940.23 L396.40,942.50 L398.03,944.76 L399.67,947.03 L401.30,949.30 L402.93,951.57 L404.56,953.83 L406.20,956.08 L407.84,958.30 L409.50,960.50 L411.11,962.62 L412.73,964.73 L414.35,966.84 L415.97,968.92 L417.61,970.98 L419.26,973.00 L420.92,974.98 L422.60,976.90 L424.19,978.66 L425.80,980.40 L427.42,982.10 L429.05,983.76 L430.69,985.39 L432.35,986.97 L434.02,988.51 L435.70,990.00 L437.28,991.36 L438.87,992.68 L440.45,993.97 L442.05,995.22 L443.68,996.43 L445.34,997.59 L447.04,998.72 L448.80,999.80 L450.70,1000.89 L452.67,1001.95 L454.69,1002.98 L456.74,1003.95 L458.81,1004.87 L460.89,1005.72 L462.96,1006.50 L465.00,1007.20 L466.87,1007.77 L468.75,1008.26 L470.62,1008.68 L472.49,1009.05 L474.37,1009.38 L476.24,1009.67 L478.12,1009.94 L480.00,1010.20 L481.87,1010.43 L483.74,1010.61 L485.62,1010.75 L487.49,1010.87 L489.37,1010.97 L491.25,1011.07 L493.12,1011.18 L495.00,1011.30" fill="none" stroke="#0505e0" stroke-width="2.9" stroke-linejoin="round"/>
<path d="M165.70,1011.30 L167.34,1011.22 L168.98,1011.17 L170.63,1011.14 L172.27,1011.10 L173.91,1011.03 L175.55,1010.92 L177.18,1010.75 L178.80,1010.50 L180.46,1010.18 L182.12,1009.82 L183.78,1009.41 L185.44,1008.95 L187.08,1008.43 L188.71,1007.84 L190.32,1007.16 L191.90,1006.40 L193.60,1005.43 L195.26,1004.32 L196.91,1003.10 L198.53,1001.80 L200.14,1000.46 L201.75,999.10 L203.37,997.77 L205.00,996.50 L206.63,995.26 L208.26,994.01 L209.89,992.76 L211.52,991.51 L213.16,990.27 L214.80,989.05 L216.44,987.86 L218.10,986.70 L219.72,985.61 L221.35,984.54 L222.98,983.50 L224.62,982.47 L226.26,981.47 L227.90,980.47 L229.55,979.48 L231.20,978.50 L232.84,977.54 L234.49,976.59 L236.16,975.64 L237.82,974.71 L239.48,973.79 L241.11,972.89 L242.73,971.99 L244.30,971.10 L245.71,970.31 L247.13,969.54 L248.54,968.78 L249.92,968.03 L251.27,967.29 L252.58,966.53 L253.83,965.77 L255.00,965.00 L255.89,964.37 L256.72,963.76 L257.50,963.15 L258.26,962.54 L259.00,961.90 L259.74,961.24 L260.50,960.55 L261.30,959.80 L262.33,958.81 L263.41,957.74 L264.52,956.62 L265.63,955.46 L266.72,954.27 L267.77,953.07 L268.78,951.87 L269.70,950.70 L270.45,949.67 L271.15,948.65 L271.81,947.63 L272.44,946.60 L273.05,945.56 L273.65,944.50 L274.27,943.42 L274.90,942.30 L275.64,941.00 L276.40,939.64 L277.17,938.24 L277.93,936.83 L278.68,935.41 L279.40,934.00 L280.07,932.63 L280.70,931.30 L281.17,930.21 L281.58,929.15 L281.95,928.12 L282.30,927.09 L282.66,926.06 L283.05,925.03 L283.49,923.98 L284.00,922.90 L284.75,921.60 L285.61,920.32 L286.55,919.04 L287.54,917.74 L288.52,916.39 L289.47,914.96 L290.34,913.44 L291.10,911.80 L291.93,909.39 L292.61,906.74 L293.18,903.91 L293.67,900.95 L294.12,897.94 L294.57,894.94 L295.05,892.00 L295.60,889.20 L296.16,886.70 L296.72,884.24 L297.30,881.82 L297.88,879.42 L298.46,877.02 L299.04,874.61 L299.62,872.18 L300.20,869.70 L300.80,867.03 L301.40,864.31 L301.99,861.56 L302.59,858.79 L303.18,856.04 L303.78,853.31 L304.39,850.62 L305.00,848.00 L305.57,845.66 L306.16,843.35 L306.75,841.07 L307.35,838.82 L307.94,836.59 L308.51,834.38 L309.07,832.19 L309.60,830.00 L310.06,828.00 L310.50,826.06 L310.91,824.15 L311.32,822.25 L311.72,820.33 L312.13,818.36 L312.55,816.33 L313.00,814.20 L313.58,811.44 L314.19,808.56 L314.81,805.59 L315.45,802.55 L316.09,799.46 L316.74,796.35 L317.37,793.26 L318.00,790.20 L318.62,787.08 L319.22,783.92 L319.81,780.73 L320.40,777.55 L321.01,774.38 L321.63,771.25 L322.29,768.19 L323.00,765.20 L323.68,762.54 L324.38,759.91 L325.10,757.31 L325.84,754.75 L326.61,752.24 L327.39,749.79 L328.19,747.41 L329.00,745.10 L329.70,743.19 L330.42,741.33 L331.15,739.52 L331.89,737.75 L332.64,736.02 L333.41,734.34 L334.20,732.70 L335.00,731.10 L335.70,729.72 L336.40,728.34 L337.10,726.99 L337.82,725.68 L338.56,724.41 L339.35,723.22 L340.19,722.11 L341.10,721.10 L341.99,720.22 L342.94,719.34 L343.93,718.48 L344.96,717.70 L346.01,717.03 L347.06,716.51 L348.09,716.19 L349.10,716.10 L350.13,716.28 L351.18,716.70 L352.24,717.33 L353.28,718.12 L354.31,719.03 L355.30,720.02 L356.23,721.06 L357.10,722.10 L358.05,723.41 L358.92,724.87 L359.73,726.45 L360.48,728.11 L361.18,729.84 L361.84,731.60 L362.48,733.36 L363.10,735.10 L363.71,736.91 L364.26,738.77 L364.77,740.65 L365.24,742.56 L365.70,744.47 L366.15,746.39 L366.62,748.30 L367.10,750.20 L367.60,752.06 L368.09,753.90 L368.59,755.73 L369.08,757.57 L369.58,759.42 L370.08,761.30 L370.58,763.22 L371.10,765.20 L371.70,767.56 L372.32,770.00 L372.94,772.49 L373.57,775.02 L374.21,777.57 L374.84,780.13 L375.47,782.68 L376.10,785.20 L376.73,787.68 L377.36,790.12 L377.99,792.55 L378.62,794.99 L379.25,797.45 L379.87,799.96 L380.49,802.54 L381.10,805.20 L381.79,808.42 L382.47,811.72 L383.13,815.11 L383.79,818.57 L384.45,822.08 L385.12,825.63 L385.80,829.21 L386.50,832.80 L387.29,836.76 L388.10,840.78 L388.92,844.86 L389.76,848.97 L390.60,853.11 L391.44,857.26 L392.28,861.39 L393.10,865.50 L393.92,869.60 L394.73,873.70 L395.54,877.80 L396.35,881.90 L397.16,886.00 L397.97,890.10 L398.78,894.20 L399.60,898.30 L400.42,902.39 L401.24,906.48 L402.07,910.56 L402.90,914.65 L403.73,918.74 L404.56,922.82 L405.38,926.91 L406.20,931.00 L407.00,935.13 L407.76,939.32 L408.51,943.53 L409.27,947.72 L410.05,951.88 L410.87,955.97 L411.74,959.95 L412.70,963.80 L413.60,967.10 L414.54,970.37 L415.51,973.59 L416.52,976.73 L417.57,979.79 L418.65,982.75 L419.76,985.59 L420.90,988.30 L421.83,990.42 L422.75,992.52 L423.69,994.56 L424.65,996.52 L425.66,998.38 L426.73,1000.11 L427.87,1001.69 L429.10,1003.10 L430.20,1004.12 L431.39,1005.02 L432.64,1005.83 L433.92,1006.56 L435.21,1007.21 L436.49,1007.79 L437.73,1008.32 L438.90,1008.80 L439.77,1009.13 L440.61,1009.39 L441.44,1009.61 L442.25,1009.80 L443.06,1009.97 L443.87,1010.13 L444.68,1010.30 L445.50,1010.50" fill="none" stroke="#0505e0" stroke-width="2.1" stroke-dasharray="13.6 8.4" stroke-linejoin="round"/>
<path d="M263.90,1010.50 L264.54,1009.95 L265.19,1009.42 L265.84,1008.90 L266.49,1008.38 L267.13,1007.84 L267.77,1007.27 L268.39,1006.66 L269.00,1006.00 L269.71,1005.16 L270.42,1004.28 L271.12,1003.35 L271.80,1002.38 L272.46,1001.37 L273.10,1000.30 L273.72,999.18 L274.30,998.00 L274.99,996.40 L275.63,994.67 L276.23,992.83 L276.79,990.93 L277.32,988.98 L277.83,987.01 L278.32,985.04 L278.80,983.10 L279.27,981.13 L279.69,979.14 L280.09,977.15 L280.47,975.14 L280.84,973.12 L281.21,971.07 L281.59,969.00 L282.00,966.90 L282.48,964.56 L282.98,962.18 L283.49,959.76 L284.00,957.32 L284.51,954.86 L285.01,952.40 L285.47,949.94 L285.90,947.50 L286.28,945.06 L286.63,942.59 L286.96,940.12 L287.26,937.64 L287.56,935.18 L287.86,932.75 L288.17,930.35 L288.50,928.00 L288.81,925.90 L289.13,923.84 L289.46,921.81 L289.79,919.80 L290.12,917.81 L290.44,915.81 L290.77,913.81 L291.10,911.80 L291.43,909.81 L291.76,907.86 L292.10,905.94 L292.43,904.00 L292.77,902.03 L293.09,899.99 L293.40,897.85 L293.70,895.60 L294.07,892.35 L294.41,888.85 L294.73,885.18 L295.04,881.39 L295.34,877.56 L295.64,873.75 L295.96,870.05 L296.30,866.50 L296.62,863.43 L296.94,860.41 L297.27,857.44 L297.60,854.51 L297.94,851.60 L298.28,848.72 L298.64,845.86 L299.00,843.00 L299.35,840.32 L299.72,837.68 L300.10,835.06 L300.48,832.45 L300.86,829.86 L301.24,827.26 L301.63,824.64 L302.00,822.00 L302.38,819.28 L302.76,816.57 L303.14,813.85 L303.51,811.12 L303.89,808.37 L304.26,805.61 L304.63,802.82 L305.00,800.00 L305.37,796.99 L305.73,793.96 L306.08,790.91 L306.42,787.84 L306.78,784.74 L307.15,781.60 L307.56,778.42 L308.00,775.20 L308.53,771.57 L309.10,767.87 L309.70,764.11 L310.33,760.32 L310.97,756.50 L311.64,752.68 L312.32,748.88 L313.00,745.10 L313.70,741.32 L314.42,737.52 L315.15,733.71 L315.90,729.91 L316.66,726.14 L317.44,722.40 L318.22,718.71 L319.00,715.10 L319.73,711.86 L320.47,708.68 L321.21,705.55 L321.97,702.45 L322.73,699.37 L323.49,696.29 L324.25,693.21 L325.00,690.10 L325.75,686.96 L326.51,683.79 L327.27,680.60 L328.03,677.43 L328.78,674.27 L329.53,671.16 L330.27,668.09 L331.00,665.10 L331.64,662.47 L332.27,659.89 L332.89,657.35 L333.50,654.84 L334.11,652.35 L334.73,649.89 L335.36,647.44 L336.00,645.00 L336.62,642.66 L337.23,640.30 L337.86,637.95 L338.48,635.61 L339.12,633.33 L339.77,631.11 L340.42,629.00 L341.10,627.00 L341.62,625.43 L342.12,623.79 L342.62,622.15 L343.13,620.58 L343.67,619.16 L344.25,617.95 L344.89,617.04 L345.60,616.50 L346.11,616.34 L346.68,616.31 L347.27,616.38 L347.87,616.54 L348.48,616.80 L349.06,617.13 L349.61,617.54 L350.10,618.00 L350.86,619.10 L351.49,620.57 L352.02,622.33 L352.47,624.32 L352.88,626.46 L353.27,628.67 L353.67,630.87 L354.10,633.00 L354.65,635.53 L355.19,638.16 L355.71,640.86 L356.23,643.63 L356.72,646.44 L357.20,649.29 L357.66,652.15 L358.10,655.00 L358.54,658.04 L358.95,661.10 L359.33,664.18 L359.70,667.30 L360.05,670.44 L360.40,673.62 L360.75,676.84 L361.10,680.10 L361.49,683.70 L361.88,687.36 L362.26,691.05 L362.63,694.79 L363.00,698.56 L363.37,702.37 L363.74,706.22 L364.10,710.10 L364.48,714.36 L364.84,718.72 L365.18,723.15 L365.53,727.60 L365.89,732.05 L366.26,736.48 L366.66,740.84 L367.10,745.10 L367.54,748.98 L368.02,752.79 L368.51,756.56 L369.03,760.30 L369.55,764.02 L370.07,767.73 L370.59,771.46 L371.10,775.20 L371.59,778.99 L372.05,782.84 L372.51,786.70 L372.98,790.56 L373.45,794.37 L373.96,798.10 L374.50,801.72 L375.10,805.20 L375.64,807.96 L376.22,810.58 L376.82,813.11 L377.44,815.58 L378.07,818.06 L378.72,820.59 L379.36,823.22 L380.00,826.00 L380.79,829.60 L381.59,833.35 L382.40,837.23 L383.22,841.20 L384.04,845.22 L384.87,849.27 L385.69,853.31 L386.50,857.30 L387.33,861.36 L388.16,865.45 L388.98,869.54 L389.81,873.65 L390.63,877.77 L391.46,881.88 L392.28,886.00 L393.10,890.10 L393.92,894.19 L394.73,898.28 L395.54,902.36 L396.35,906.45 L397.16,910.54 L397.97,914.62 L398.78,918.71 L399.60,922.80 L400.42,926.92 L401.23,931.06 L402.05,935.22 L402.87,939.37 L403.69,943.50 L404.52,947.60 L405.35,951.63 L406.20,955.60 L406.98,959.23 L407.76,962.87 L408.53,966.48 L409.32,970.05 L410.12,973.55 L410.95,976.96 L411.80,980.25 L412.70,983.40 L413.45,985.91 L414.21,988.39 L414.98,990.81 L415.77,993.17 L416.59,995.42 L417.45,997.56 L418.35,999.56 L419.30,1001.40 L420.04,1002.68 L420.79,1003.92 L421.56,1005.11 L422.36,1006.22 L423.18,1007.24 L424.03,1008.16 L424.90,1008.95 L425.80,1009.60 L426.53,1009.98 L427.28,1010.26 L428.05,1010.45 L428.84,1010.57 L429.63,1010.67 L430.43,1010.75 L431.22,1010.85 L432.00,1011.00" fill="none" stroke="#0505e0" stroke-width="2.1" stroke-dasharray="11.2 3.9 2.9 3.9" stroke-linejoin="round"/>
<text x="77.50" y="1046.30" text-anchor="middle" class="t">30</text>
<text x="161.84" y="1046.30" text-anchor="middle" class="t">31</text>
<text x="246.18" y="1046.30" text-anchor="middle" class="t">32</text>
<text x="330.52" y="1046.30" text-anchor="middle" class="t">33</text>
<text x="414.86" y="1046.30" text-anchor="middle" class="t">34</text>
<text x="499.20" y="1046.30" text-anchor="middle" class="t">35</text>
<text x="64.20" y="1020.20" text-anchor="end" class="t">0</text>
<text x="64.20" y="949.98" text-anchor="end" class="t">0.2</text>
<text x="64.20" y="879.77" text-anchor="end" class="t">0.4</text>
<text x="64.20" y="809.55" text-anchor="end" class="t">0.6</text>
<text x="64.20" y="739.33" text-anchor="end" class="t">0.8</text>
<text x="64.20" y="669.12" text-anchor="end" class="t">1</text>
<text x="64.20" y="598.90" text-anchor="end" class="t">1.2</text>
<text x="288.35" y="1073.30" text-anchor="middle" class="t">Salinity (PSU)</text>
<text transform="translate(24.80,800.35) rotate(-90)" text-anchor="middle" class="t">Density</text>
<text x="0" y="564.8" class="L">C</text>
<path d="M660.4,590.5H1081.7V1011.8H660.4ZM660.40,1011.8v6.5M660.40,590.5v-6.5M744.66,1011.8v6.5M744.66,590.5v-6.5M828.92,1011.8v6.5M828.92,590.5v-6.5M913.18,1011.8v6.5M913.18,590.5v-6.5M997.44,1011.8v6.5M997.44,590.5v-6.5M1081.70,1011.8v6.5M1081.70,590.5v-6.5M660.4,1011.80h-6.5M1081.7,1011.80h6.5M660.4,951.61h-6.5M1081.7,951.61h6.5M660.4,891.43h-6.5M1081.7,891.43h6.5M660.4,831.24h-6.5M1081.7,831.24h6.5M660.4,771.06h-6.5M1081.7,771.06h6.5M660.4,710.87h-6.5M1081.7,710.87h6.5M660.4,650.69h-6.5M1081.7,650.69h6.5M660.4,590.50h-6.5M1081.7,590.50h6.5" fill="none" stroke="#262626" stroke-width="1" stroke-opacity="0.48"/>
<path d="M772.10,1010.60 L773.34,1010.51 L774.60,1010.44 L775.86,1010.37 L777.12,1010.30 L778.37,1010.22 L779.60,1010.12 L780.81,1009.98 L782.00,1009.80 L783.08,1009.60 L784.16,1009.38 L785.22,1009.14 L786.27,1008.88 L787.29,1008.60 L788.29,1008.29 L789.26,1007.96 L790.20,1007.60 L790.99,1007.26 L791.76,1006.91 L792.50,1006.54 L793.22,1006.15 L793.92,1005.74 L794.62,1005.31 L795.31,1004.87 L796.00,1004.40 L796.71,1003.89 L797.41,1003.37 L798.10,1002.82 L798.78,1002.25 L799.46,1001.66 L800.13,1001.06 L800.81,1000.44 L801.50,999.80 L802.28,999.08 L803.08,998.35 L803.88,997.61 L804.69,996.84 L805.48,996.04 L806.25,995.21 L806.99,994.33 L807.70,993.40 L808.46,992.27 L809.18,991.07 L809.87,989.82 L810.52,988.52 L811.16,987.18 L811.78,985.80 L812.39,984.41 L813.00,983.00 L813.67,981.39 L814.32,979.72 L814.95,978.01 L815.57,976.26 L816.17,974.50 L816.76,972.73 L817.33,970.96 L817.90,969.20 L818.46,967.45 L819.00,965.71 L819.53,963.97 L820.05,962.23 L820.56,960.46 L821.05,958.68 L821.53,956.86 L822.00,955.00 L822.49,952.93 L822.96,950.87 L823.41,948.78 L823.85,946.66 L824.28,944.48 L824.71,942.22 L825.15,939.87 L825.60,937.40 L826.23,933.87 L826.88,930.09 L827.55,926.14 L828.21,922.05 L828.87,917.88 L829.51,913.70 L830.12,909.55 L830.70,905.50 L831.24,901.55 L831.75,897.62 L832.23,893.71 L832.70,889.79 L833.15,885.84 L833.60,881.86 L834.05,877.82 L834.50,873.70 L835.00,869.04 L835.49,864.22 L835.98,859.30 L836.47,854.34 L836.94,849.42 L837.41,844.59 L837.86,839.93 L838.30,835.50 L838.65,832.14 L838.99,829.01 L839.32,826.03 L839.64,823.09 L839.96,820.11 L840.27,817.00 L840.59,813.66 L840.90,810.00 L841.36,803.80 L841.80,796.98 L842.22,789.69 L842.64,782.07 L843.07,774.24 L843.52,766.36 L843.99,758.57 L844.50,751.00 L845.06,743.45 L845.64,735.84 L846.25,728.19 L846.88,720.54 L847.52,712.94 L848.18,705.40 L848.84,697.98 L849.50,690.70 L850.10,684.12 L850.68,677.57 L851.27,671.07 L851.87,664.64 L852.49,658.34 L853.15,652.17 L853.85,646.18 L854.60,640.40 L855.23,635.68 L855.84,630.97 L856.45,626.32 L857.10,621.80 L857.82,617.46 L858.62,613.38 L859.54,609.60 L860.60,606.20 L861.40,604.02 L862.27,601.78 L863.20,599.58 L864.17,597.53 L865.15,595.74 L866.13,594.34 L867.09,593.42 L868.00,593.10 L868.88,593.45 L869.77,594.38 L870.65,595.80 L871.53,597.58 L872.38,599.62 L873.19,601.81 L873.97,604.04 L874.70,606.20 L875.70,609.61 L876.59,613.39 L877.37,617.48 L878.08,621.81 L878.74,626.33 L879.38,630.98 L880.03,635.69 L880.70,640.40 L881.53,646.19 L882.33,652.18 L883.11,658.34 L883.87,664.65 L884.61,671.07 L885.35,677.57 L886.07,684.12 L886.80,690.70 L887.58,697.98 L888.33,705.40 L889.07,712.94 L889.80,720.55 L890.52,728.20 L891.26,735.84 L892.02,743.46 L892.80,751.00 L893.62,758.49 L894.47,766.10 L895.35,773.74 L896.24,781.34 L897.11,788.84 L897.96,796.16 L898.76,803.24 L899.50,810.00 L900.03,815.17 L900.52,820.13 L900.97,824.93 L901.41,829.62 L901.84,834.24 L902.29,838.85 L902.77,843.48 L903.30,848.20 L903.88,852.96 L904.49,857.68 L905.13,862.40 L905.79,867.12 L906.46,871.86 L907.12,876.64 L907.77,881.48 L908.40,886.40 L909.05,891.86 L909.68,897.48 L910.30,903.20 L910.91,908.95 L911.53,914.68 L912.17,920.30 L912.82,925.76 L913.50,931.00 L914.09,935.29 L914.67,939.49 L915.25,943.61 L915.85,947.64 L916.48,951.59 L917.14,955.45 L917.84,959.22 L918.60,962.90 L919.28,966.00 L919.97,969.06 L920.68,972.07 L921.43,975.01 L922.21,977.86 L923.04,980.62 L923.94,983.27 L924.90,985.80 L925.74,987.80 L926.62,989.75 L927.54,991.64 L928.49,993.46 L929.48,995.19 L930.49,996.83 L931.53,998.37 L932.60,999.80 L933.47,1000.84 L934.35,1001.82 L935.26,1002.73 L936.19,1003.59 L937.13,1004.39 L938.08,1005.14 L939.04,1005.84 L940.00,1006.50 L940.85,1007.04 L941.72,1007.55 L942.60,1008.01 L943.48,1008.44 L944.36,1008.83 L945.25,1009.19 L946.13,1009.51 L947.00,1009.80 L947.78,1010.02 L948.56,1010.20 L949.33,1010.34 L950.11,1010.46 L950.88,1010.57 L951.65,1010.67 L952.43,1010.77 L953.20,1010.90" fill="none" stroke="#16f4f5" stroke-width="2.9" stroke-linejoin="round"/>
<path d="M796.00,1010.60 L796.44,1010.35 L796.89,1010.10 L797.34,1009.86 L797.79,1009.62 L798.23,1009.37 L798.67,1009.10 L799.09,1008.82 L799.50,1008.50 L799.92,1008.13 L800.32,1007.73 L800.70,1007.31 L801.08,1006.88 L801.45,1006.42 L801.82,1005.96 L802.21,1005.48 L802.60,1005.00 L803.07,1004.43 L803.54,1003.84 L804.02,1003.23 L804.50,1002.61 L804.99,1001.97 L805.48,1001.32 L805.99,1000.67 L806.50,1000.00 L807.10,999.24 L807.70,998.48 L808.32,997.71 L808.95,996.93 L809.58,996.12 L810.24,995.27 L810.91,994.36 L811.60,993.40 L812.62,991.92 L813.70,990.32 L814.81,988.62 L815.96,986.84 L817.11,985.00 L818.26,983.13 L819.40,981.26 L820.50,979.40 L821.65,977.41 L822.79,975.38 L823.92,973.31 L825.05,971.22 L826.16,969.13 L827.26,967.03 L828.34,964.95 L829.40,962.90 L830.40,960.97 L831.39,959.05 L832.36,957.14 L833.32,955.24 L834.27,953.34 L835.20,951.43 L836.11,949.52 L837.00,947.60 L837.85,945.70 L838.68,943.79 L839.48,941.88 L840.27,939.96 L841.05,938.05 L841.83,936.13 L842.61,934.21 L843.40,932.30 L844.20,930.39 L845.00,928.48 L845.80,926.56 L846.61,924.65 L847.41,922.74 L848.21,920.83 L849.00,918.91 L849.80,917.00 L850.59,915.09 L851.38,913.18 L852.17,911.26 L852.95,909.35 L853.73,907.44 L854.52,905.52 L855.31,903.61 L856.10,901.70 L856.89,899.78 L857.69,897.86 L858.48,895.93 L859.28,894.00 L860.08,892.08 L860.88,890.17 L861.69,888.27 L862.50,886.40 L863.28,884.61 L864.06,882.84 L864.84,881.09 L865.62,879.34 L866.41,877.60 L867.22,875.87 L868.05,874.13 L868.90,872.40 L869.79,870.63 L870.71,868.84 L871.64,867.06 L872.59,865.28 L873.55,863.51 L874.53,861.77 L875.51,860.07 L876.50,858.40 L877.43,856.88 L878.37,855.38 L879.32,853.89 L880.28,852.44 L881.24,851.01 L882.22,849.61 L883.21,848.24 L884.20,846.90 L885.12,845.71 L886.04,844.55 L886.97,843.43 L887.91,842.33 L888.86,841.24 L889.82,840.17 L890.80,839.09 L891.80,838.00 L892.86,836.86 L893.94,835.70 L895.03,834.55 L896.14,833.40 L897.27,832.27 L898.40,831.17 L899.55,830.11 L900.70,829.10 L901.78,828.19 L902.85,827.31 L903.94,826.45 L905.03,825.62 L906.14,824.83 L907.27,824.07 L908.42,823.36 L909.60,822.70 L910.81,822.08 L912.06,821.49 L913.34,820.94 L914.64,820.43 L915.94,819.97 L917.24,819.56 L918.53,819.20 L919.80,818.90 L920.95,818.67 L922.11,818.49 L923.28,818.34 L924.43,818.24 L925.57,818.18 L926.68,818.17 L927.76,818.21 L928.80,818.30 L929.64,818.42 L930.45,818.59 L931.24,818.79 L932.00,819.03 L932.76,819.30 L933.51,819.58 L934.25,819.89 L935.00,820.20 L935.77,820.53 L936.54,820.89 L937.31,821.26 L938.06,821.65 L938.81,822.07 L939.55,822.52 L940.28,822.99 L941.00,823.50 L941.76,824.08 L942.51,824.70 L943.24,825.35 L943.96,826.04 L944.67,826.75 L945.38,827.50 L946.09,828.28 L946.80,829.10 L947.66,830.13 L948.52,831.20 L949.38,832.31 L950.24,833.48 L951.09,834.70 L951.93,835.97 L952.77,837.31 L953.60,838.70 L954.67,840.65 L955.73,842.78 L956.80,845.04 L957.85,847.37 L958.88,849.73 L959.89,852.06 L960.86,854.30 L961.80,856.40 L962.55,858.02 L963.26,859.55 L963.95,861.02 L964.63,862.47 L965.30,863.93 L965.96,865.43 L966.63,867.01 L967.30,868.70 L968.16,870.99 L969.02,873.42 L969.87,875.95 L970.72,878.56 L971.57,881.22 L972.42,883.90 L973.26,886.57 L974.10,889.20 L974.96,891.89 L975.81,894.60 L976.66,897.32 L977.51,900.05 L978.35,902.79 L979.20,905.53 L980.05,908.27 L980.90,911.00 L981.76,913.75 L982.61,916.51 L983.47,919.28 L984.32,922.05 L985.18,924.80 L986.05,927.54 L986.92,930.24 L987.80,932.90 L988.63,935.37 L989.47,937.82 L990.31,940.24 L991.15,942.65 L992.00,945.02 L992.86,947.38 L993.72,949.70 L994.60,952.00 L995.43,954.12 L996.26,956.22 L997.09,958.29 L997.94,960.34 L998.79,962.37 L999.65,964.37 L1000.52,966.35 L1001.40,968.30 L1002.22,970.09 L1003.03,971.85 L1003.85,973.59 L1004.67,975.31 L1005.52,977.01 L1006.38,978.69 L1007.27,980.35 L1008.20,982.00 L1009.15,983.62 L1010.12,985.23 L1011.12,986.84 L1012.14,988.42 L1013.18,989.97 L1014.24,991.48 L1015.31,992.92 L1016.40,994.30 L1017.37,995.47 L1018.33,996.60 L1019.30,997.69 L1020.29,998.74 L1021.31,999.75 L1022.36,1000.71 L1023.45,1001.63 L1024.60,1002.50 L1025.84,1003.34 L1027.14,1004.13 L1028.48,1004.86 L1029.86,1005.56 L1031.26,1006.20 L1032.68,1006.81 L1034.10,1007.37 L1035.50,1007.90 L1036.87,1008.37 L1038.28,1008.81 L1039.70,1009.21 L1041.13,1009.57 L1042.54,1009.89 L1043.92,1010.17 L1045.24,1010.40 L1046.50,1010.60 L1047.42,1010.71 L1048.31,1010.79 L1049.16,1010.83 L1049.99,1010.85 L1050.82,1010.86 L1051.64,1010.86 L1052.46,1010.87 L1053.30,1010.90" fill="none" stroke="#16f4f5" stroke-width="2.1" stroke-dasharray="13.6 8.4" stroke-linejoin="round"/>
<path d="M806.50,1011.30 L809.05,1011.01 L811.60,1010.77 L814.16,1010.54 L816.72,1010.31 L819.27,1010.04 L821.81,1009.70 L824.32,1009.26 L826.80,1008.70 L829.28,1008.01 L831.76,1007.23 L834.23,1006.36 L836.67,1005.42 L839.08,1004.41 L841.45,1003.35 L843.76,1002.24 L846.00,1001.10 L848.04,999.99 L850.01,998.82 L851.94,997.62 L853.82,996.36 L855.68,995.06 L857.52,993.72 L859.36,992.33 L861.20,990.90 L863.17,989.31 L865.13,987.64 L867.09,985.92 L869.03,984.14 L870.95,982.34 L872.83,980.52 L874.69,978.70 L876.50,976.90 L878.19,975.18 L879.85,973.45 L881.48,971.71 L883.08,969.96 L884.66,968.20 L886.22,966.44 L887.77,964.67 L889.30,962.90 L890.78,961.16 L892.24,959.41 L893.68,957.65 L895.11,955.89 L896.52,954.12 L897.92,952.37 L899.32,950.63 L900.70,948.90 L902.01,947.28 L903.32,945.67 L904.62,944.07 L905.91,942.48 L907.18,940.90 L908.44,939.31 L909.68,937.71 L910.90,936.10 L912.07,934.53 L913.22,932.95 L914.36,931.37 L915.48,929.79 L916.59,928.20 L917.67,926.60 L918.75,925.01 L919.80,923.40 L920.81,921.82 L921.80,920.22 L922.77,918.62 L923.72,917.02 L924.67,915.41 L925.61,913.81 L926.55,912.20 L927.50,910.60 L928.45,909.00 L929.40,907.39 L930.36,905.77 L931.30,904.16 L932.25,902.55 L933.18,900.97 L934.10,899.42 L935.00,897.90 L935.77,896.60 L936.51,895.37 L937.23,894.18 L937.95,893.00 L938.68,891.79 L939.43,890.54 L940.24,889.22 L941.10,887.80 L942.46,885.52 L943.94,882.98 L945.52,880.26 L947.15,877.46 L948.81,874.68 L950.46,871.99 L952.07,869.50 L953.60,867.30 L954.65,865.88 L955.68,864.56 L956.69,863.31 L957.70,862.13 L958.70,861.00 L959.72,859.92 L960.74,858.85 L961.80,857.80 L962.79,856.84 L963.79,855.91 L964.80,855.00 L965.82,854.13 L966.85,853.29 L967.89,852.48 L968.94,851.72 L970.00,851.00 L971.00,850.36 L972.02,849.73 L973.05,849.14 L974.09,848.57 L975.12,848.06 L976.16,847.60 L977.19,847.21 L978.20,846.90 L979.06,846.69 L979.91,846.53 L980.75,846.41 L981.59,846.34 L982.43,846.31 L983.28,846.33 L984.13,846.39 L985.00,846.50 L986.01,846.68 L987.05,846.93 L988.11,847.24 L989.17,847.61 L990.22,848.03 L991.25,848.51 L992.25,849.03 L993.20,849.60 L994.15,850.26 L995.07,851.00 L995.95,851.80 L996.80,852.66 L997.64,853.56 L998.47,854.49 L999.28,855.44 L1000.10,856.40 L1000.99,857.48 L1001.87,858.61 L1002.74,859.77 L1003.59,860.96 L1004.43,862.19 L1005.26,863.44 L1006.08,864.71 L1006.90,866.00 L1007.79,867.44 L1008.66,868.91 L1009.52,870.41 L1010.37,871.94 L1011.22,873.50 L1012.05,875.08 L1012.88,876.68 L1013.70,878.30 L1014.58,880.08 L1015.45,881.89 L1016.31,883.73 L1017.16,885.60 L1018.01,887.49 L1018.85,889.41 L1019.68,891.34 L1020.50,893.30 L1021.37,895.44 L1022.23,897.63 L1023.07,899.85 L1023.91,902.10 L1024.75,904.35 L1025.59,906.59 L1026.44,908.81 L1027.30,911.00 L1028.15,913.09 L1029.00,915.17 L1029.86,917.24 L1030.72,919.30 L1031.59,921.34 L1032.46,923.38 L1033.33,925.39 L1034.20,927.40 L1035.04,929.32 L1035.88,931.22 L1036.73,933.12 L1037.57,935.00 L1038.42,936.87 L1039.28,938.72 L1040.14,940.57 L1041.00,942.40 L1041.83,944.16 L1042.64,945.93 L1043.45,947.69 L1044.26,949.44 L1045.10,951.16 L1045.96,952.85 L1046.86,954.50 L1047.80,956.10 L1048.73,957.59 L1049.69,959.08 L1050.68,960.55 L1051.69,961.98 L1052.73,963.36 L1053.80,964.67 L1054.89,965.89 L1056.00,967.00 L1056.97,967.86 L1057.96,968.66 L1058.97,969.39 L1059.99,970.08 L1061.03,970.71 L1062.08,971.31 L1063.14,971.87 L1064.20,972.40 L1065.20,972.87 L1066.20,973.32 L1067.21,973.73 L1068.23,974.11 L1069.26,974.45 L1070.30,974.75 L1071.34,975.00 L1072.40,975.20 L1073.48,975.34 L1074.58,975.40 L1075.69,975.41 L1076.81,975.38 L1077.94,975.33 L1079.06,975.27 L1080.18,975.22 L1081.30,975.20" fill="none" stroke="#16f4f5" stroke-width="2.1" stroke-dasharray="11.2 3.9 2.9 3.9" stroke-linejoin="round"/>
<text x="660.40" y="1046.30" text-anchor="middle" class="t">34.5</text>
<text x="744.66" y="1046.30" text-anchor="middle" class="t">34.6</text>
<text x="828.92" y="1046.30" text-anchor="middle" class="t">34.7</text>
<text x="913.18" y="1046.30" text-anchor="middle" class="t">34.8</text>
<text x="997.44" y="1046.30" text-anchor="middle" class="t">34.9</text>
<text x="1081.70" y="1046.30" text-anchor="middle" class="t">35</text>
<text x="646.10" y="1020.20" text-anchor="end" class="t">0</text>
<text x="646.10" y="960.01" text-anchor="end" class="t">2</text>
<text x="646.10" y="899.83" text-anchor="end" class="t">4</text>
<text x="646.10" y="839.64" text-anchor="end" class="t">6</text>
<text x="646.10" y="779.46" text-anchor="end" class="t">8</text>
<text x="646.10" y="719.27" text-anchor="end" class="t">10</text>
<text x="646.10" y="659.09" text-anchor="end" class="t">12</text>
<text x="646.10" y="598.90" text-anchor="end" class="t">14</text>
<text x="871.05" y="1073.30" text-anchor="middle" class="t">Salinity (PSU)</text>
<text transform="translate(613.20,800.35) rotate(-90)" text-anchor="middle" class="t">Density</text>
<text x="589" y="565" class="L">D</text>
<path d="M76.7,1121.4H498.59999999999997V1543.5H76.7ZM76.70,1543.5v6.5M76.70,1121.4v-6.5M161.08,1543.5v6.5M161.08,1121.4v-6.5M245.46,1543.5v6.5M245.46,1121.4v-6.5M329.84,1543.5v6.5M329.84,1121.4v-6.5M414.22,1543.5v6.5M414.22,1121.4v-6.5M498.60,1543.5v6.5M498.60,1121.4v-6.5M76.7,1543.50h-6.5M498.59999999999997,1543.50h6.5M76.7,1459.08h-6.5M498.59999999999997,1459.08h6.5M76.7,1374.66h-6.5M498.59999999999997,1374.66h6.5M76.7,1290.24h-6.5M498.59999999999997,1290.24h6.5M76.7,1205.82h-6.5M498.59999999999997,1205.82h6.5M76.7,1121.40h-6.5M498.59999999999997,1121.40h6.5" fill="none" stroke="#262626" stroke-width="1" stroke-opacity="0.48"/>
<path d="M77.50,1542.50 L79.86,1542.41 L82.22,1542.34 L84.58,1542.29 L86.95,1542.23 L89.31,1542.15 L91.67,1542.03 L94.03,1541.85 L96.40,1541.60 L98.84,1541.27 L101.32,1540.87 L103.81,1540.41 L106.30,1539.92 L108.76,1539.39 L111.18,1538.83 L113.53,1538.27 L115.80,1537.70 L117.68,1537.22 L119.49,1536.74 L121.25,1536.26 L122.97,1535.75 L124.69,1535.22 L126.42,1534.64 L128.18,1534.01 L130.00,1533.30 L132.20,1532.39 L134.45,1531.40 L136.73,1530.33 L139.04,1529.21 L141.36,1528.02 L143.66,1526.79 L145.95,1525.51 L148.20,1524.20 L150.52,1522.77 L152.82,1521.27 L155.10,1519.71 L157.38,1518.10 L159.64,1516.45 L161.90,1514.77 L164.15,1513.09 L166.40,1511.40 L168.71,1509.65 L171.03,1507.84 L173.35,1506.01 L175.66,1504.16 L177.95,1502.30 L180.21,1500.46 L182.43,1498.66 L184.60,1496.90 L186.50,1495.33 L188.34,1493.75 L190.15,1492.17 L191.94,1490.61 L193.72,1489.10 L195.51,1487.65 L197.33,1486.27 L199.20,1485.00 L200.97,1483.91 L202.75,1482.90 L204.55,1481.96 L206.37,1481.07 L208.19,1480.22 L210.03,1479.40 L211.86,1478.60 L213.70,1477.80 L215.51,1477.02 L217.32,1476.24 L219.13,1475.49 L220.96,1474.76 L222.78,1474.07 L224.62,1473.42 L226.46,1472.83 L228.30,1472.30 L230.10,1471.85 L231.90,1471.47 L233.71,1471.14 L235.52,1470.84 L237.34,1470.58 L239.16,1470.35 L240.98,1470.12 L242.80,1469.90 L244.62,1469.70 L246.45,1469.55 L248.27,1469.43 L250.10,1469.32 L251.93,1469.21 L253.76,1469.08 L255.58,1468.92 L257.40,1468.70 L259.22,1468.44 L261.04,1468.17 L262.86,1467.87 L264.68,1467.55 L266.49,1467.20 L268.30,1466.81 L270.10,1466.38 L271.90,1465.90 L273.74,1465.35 L275.57,1464.75 L277.40,1464.10 L279.23,1463.42 L281.05,1462.70 L282.87,1461.97 L284.69,1461.24 L286.50,1460.50 L288.34,1459.73 L290.19,1458.91 L292.04,1458.07 L293.89,1457.22 L295.72,1456.38 L297.54,1455.56 L299.33,1454.80 L301.10,1454.10 L302.64,1453.52 L304.18,1452.95 L305.70,1452.41 L307.20,1451.89 L308.68,1451.41 L310.15,1450.98 L311.59,1450.61 L313.00,1450.30 L314.17,1450.08 L315.30,1449.89 L316.40,1449.74 L317.49,1449.62 L318.59,1449.54 L319.70,1449.51 L320.83,1449.53 L322.00,1449.60 L323.41,1449.75 L324.86,1449.97 L326.34,1450.26 L327.83,1450.61 L329.35,1451.02 L330.87,1451.47 L332.39,1451.97 L333.90,1452.50 L335.59,1453.14 L337.30,1453.83 L339.02,1454.57 L340.74,1455.38 L342.46,1456.25 L344.19,1457.19 L345.90,1458.21 L347.60,1459.30 L349.57,1460.70 L351.55,1462.22 L353.52,1463.86 L355.48,1465.59 L357.43,1467.39 L359.37,1469.24 L361.29,1471.11 L363.20,1473.00 L365.21,1475.05 L367.19,1477.18 L369.16,1479.37 L371.11,1481.61 L373.06,1483.86 L375.00,1486.13 L376.95,1488.38 L378.90,1490.60 L380.85,1492.81 L382.79,1495.05 L384.72,1497.30 L386.65,1499.54 L388.59,1501.77 L390.54,1503.96 L392.51,1506.11 L394.50,1508.20 L396.42,1510.17 L398.34,1512.12 L400.28,1514.05 L402.23,1515.95 L404.19,1517.79 L406.17,1519.57 L408.17,1521.28 L410.20,1522.90 L412.09,1524.33 L414.01,1525.69 L415.94,1527.01 L417.88,1528.26 L419.84,1529.46 L421.81,1530.60 L423.80,1531.68 L425.80,1532.70 L427.71,1533.62 L429.62,1534.48 L431.53,1535.30 L433.46,1536.05 L435.41,1536.76 L437.40,1537.42 L439.43,1538.03 L441.50,1538.60 L443.82,1539.15 L446.21,1539.61 L448.66,1540.01 L451.13,1540.36 L453.63,1540.67 L456.14,1540.95 L458.63,1541.22 L461.10,1541.50 L463.55,1541.77 L466.01,1542.02 L468.48,1542.25 L470.94,1542.46 L473.40,1542.65 L475.83,1542.82 L478.24,1542.97 L480.60,1543.10 L482.74,1543.19 L484.84,1543.25 L486.92,1543.29 L488.98,1543.32 L491.03,1543.34 L493.08,1543.35 L495.13,1543.37 L497.20,1543.40" fill="none" stroke="#0505e0" stroke-width="2.9" stroke-linejoin="round"/>
<path d="M191.30,1542.50 L192.06,1541.44 L192.84,1540.43 L193.63,1539.44 L194.41,1538.44 L195.18,1537.40 L195.91,1536.30 L196.59,1535.11 L197.20,1533.80 L197.92,1531.83 L198.52,1529.72 L199.03,1527.46 L199.46,1525.07 L199.86,1522.55 L200.23,1519.93 L200.60,1517.21 L201.00,1514.40 L201.57,1510.20 L202.09,1505.67 L202.59,1500.87 L203.05,1495.89 L203.51,1490.81 L203.96,1485.69 L204.42,1480.63 L204.90,1475.70 L205.38,1470.81 L205.86,1465.87 L206.33,1460.91 L206.81,1455.95 L207.29,1451.04 L207.78,1446.20 L208.28,1441.48 L208.80,1436.90 L209.26,1433.03 L209.73,1429.22 L210.20,1425.47 L210.68,1421.80 L211.17,1418.19 L211.67,1414.65 L212.18,1411.19 L212.70,1407.80 L213.14,1404.88 L213.58,1401.91 L214.01,1398.96 L214.45,1396.07 L214.91,1393.32 L215.40,1390.77 L215.93,1388.48 L216.50,1386.50 L216.83,1385.50 L217.17,1384.49 L217.53,1383.51 L217.89,1382.62 L218.25,1381.84 L218.63,1381.24 L219.01,1380.84 L219.40,1380.70 L219.87,1380.90 L220.37,1381.44 L220.89,1382.28 L221.41,1383.33 L221.93,1384.53 L222.42,1385.82 L222.88,1387.13 L223.30,1388.40 L223.83,1390.33 L224.28,1392.43 L224.65,1394.69 L224.98,1397.09 L225.28,1399.62 L225.57,1402.26 L225.87,1404.99 L226.20,1407.80 L226.70,1412.01 L227.19,1416.56 L227.68,1421.37 L228.16,1426.37 L228.65,1431.47 L229.13,1436.59 L229.61,1441.66 L230.10,1446.60 L230.58,1451.46 L231.07,1456.35 L231.55,1461.25 L232.03,1466.15 L232.51,1471.02 L233.00,1475.85 L233.50,1480.61 L234.00,1485.30 L234.46,1489.61 L234.89,1493.95 L235.33,1498.27 L235.77,1502.53 L236.24,1506.70 L236.74,1510.74 L237.29,1514.62 L237.90,1518.30 L238.38,1521.13 L238.85,1524.02 L239.32,1526.88 L239.82,1529.64 L240.38,1532.18 L241.03,1534.44 L241.79,1536.31 L242.70,1537.70 L243.23,1538.24 L243.81,1538.71 L244.43,1539.10 L245.06,1539.40 L245.70,1539.61 L246.33,1539.71 L246.93,1539.72 L247.50,1539.60 L248.20,1539.24 L248.88,1538.63 L249.53,1537.82 L250.15,1536.84 L250.75,1535.72 L251.32,1534.51 L251.87,1533.22 L252.40,1531.90 L253.23,1529.36 L253.94,1526.39 L254.56,1523.10 L255.12,1519.56 L255.63,1515.86 L256.13,1512.10 L256.65,1508.35 L257.20,1504.70 L257.83,1500.70 L258.46,1496.57 L259.08,1492.35 L259.69,1488.09 L260.30,1483.86 L260.90,1479.70 L261.50,1475.66 L262.10,1471.80 L262.58,1468.52 L263.04,1465.11 L263.48,1461.67 L263.93,1458.34 L264.39,1455.24 L264.88,1452.48 L265.41,1450.20 L266.00,1448.50 L266.22,1448.03 L266.46,1447.59 L266.69,1447.18 L266.93,1446.84 L267.17,1446.55 L267.42,1446.34 L267.66,1446.22 L267.90,1446.20 L268.26,1446.39 L268.63,1446.84 L269.01,1447.50 L269.38,1448.33 L269.74,1449.28 L270.11,1450.31 L270.46,1451.36 L270.80,1452.40 L271.35,1454.27 L271.88,1456.39 L272.38,1458.71 L272.86,1461.19 L273.33,1463.79 L273.79,1466.45 L274.25,1469.14 L274.70,1471.80 L275.22,1474.97 L275.71,1478.25 L276.18,1481.63 L276.64,1485.07 L277.11,1488.54 L277.58,1492.02 L278.08,1495.48 L278.60,1498.90 L279.14,1502.36 L279.69,1505.91 L280.24,1509.49 L280.81,1513.06 L281.41,1516.55 L282.03,1519.90 L282.69,1523.07 L283.40,1526.00 L283.92,1528.02 L284.43,1530.04 L284.95,1532.00 L285.49,1533.87 L286.07,1535.60 L286.71,1537.16 L287.41,1538.51 L288.20,1539.60 L288.72,1540.13 L289.27,1540.57 L289.83,1540.93 L290.42,1541.23 L291.03,1541.47 L291.66,1541.67 L292.32,1541.84 L293.00,1542.00 L293.85,1542.15 L294.76,1542.23 L295.70,1542.25 L296.67,1542.23 L297.66,1542.17 L298.65,1542.07 L299.64,1541.94 L300.60,1541.80 L301.62,1541.66 L302.68,1541.54 L303.75,1541.40 L304.82,1541.22 L305.85,1540.97 L306.82,1540.62 L307.72,1540.14 L308.50,1539.50 L309.35,1538.41 L310.03,1537.06 L310.57,1535.49 L311.01,1533.75 L311.37,1531.87 L311.71,1529.89 L312.04,1527.86 L312.40,1525.80 L312.92,1522.68 L313.37,1519.27 L313.76,1515.64 L314.11,1511.86 L314.42,1507.99 L314.71,1504.09 L315.00,1500.24 L315.30,1496.50 L315.60,1492.87 L315.87,1489.28 L316.13,1485.70 L316.38,1482.12 L316.61,1478.50 L316.84,1474.83 L317.07,1471.07 L317.30,1467.20 L317.56,1462.57 L317.80,1457.80 L318.03,1452.92 L318.25,1447.95 L318.48,1442.95 L318.71,1437.93 L318.95,1432.94 L319.20,1428.00 L319.47,1423.12 L319.75,1418.24 L320.03,1413.38 L320.32,1408.51 L320.62,1403.63 L320.91,1398.74 L321.21,1393.83 L321.50,1388.90 L321.80,1383.84 L322.12,1378.78 L322.43,1373.72 L322.75,1368.64 L323.06,1363.52 L323.36,1358.35 L323.64,1353.12 L323.90,1347.80 L324.16,1341.88 L324.41,1335.82 L324.63,1329.67 L324.84,1323.47 L325.05,1317.26 L325.24,1311.06 L325.42,1304.93 L325.60,1298.90 L325.76,1293.24 L325.90,1287.63 L326.03,1282.06 L326.15,1276.52 L326.27,1270.99 L326.40,1265.47 L326.54,1259.95 L326.70,1254.40 L326.87,1248.80 L327.06,1243.15 L327.25,1237.47 L327.44,1231.80 L327.65,1226.18 L327.86,1220.65 L328.08,1215.24 L328.30,1210.00 L328.50,1205.59 L328.70,1201.27 L328.91,1197.03 L329.12,1192.86 L329.34,1188.76 L329.56,1184.70 L329.78,1180.69 L330.00,1176.70 L330.20,1173.04 L330.40,1169.36 L330.60,1165.69 L330.80,1162.08 L331.01,1158.55 L331.23,1155.16 L331.46,1151.93 L331.70,1148.90 L331.88,1146.84 L332.07,1144.88 L332.26,1143.00 L332.45,1141.18 L332.65,1139.43 L332.86,1137.72 L333.07,1136.05 L333.30,1134.40 L333.49,1132.92 L333.68,1131.30 L333.88,1129.64 L334.08,1128.05 L334.29,1126.62 L334.51,1125.46 L334.75,1124.69 L335.00,1124.40 L335.25,1124.59 L335.53,1125.14 L335.82,1125.98 L336.12,1127.05 L336.41,1128.27 L336.70,1129.58 L336.96,1130.92 L337.20,1132.20 L337.53,1134.39 L337.80,1136.83 L338.03,1139.48 L338.22,1142.29 L338.39,1145.23 L338.55,1148.26 L338.72,1151.33 L338.90,1154.40 L339.14,1158.25 L339.37,1162.27 L339.59,1166.43 L339.81,1170.68 L340.02,1174.98 L340.23,1179.29 L340.42,1183.58 L340.60,1187.80 L340.77,1191.96 L340.92,1196.13 L341.06,1200.29 L341.19,1204.45 L341.31,1208.61 L341.44,1212.78 L341.57,1216.94 L341.70,1221.10 L341.84,1225.26 L341.98,1229.42 L342.11,1233.59 L342.25,1237.75 L342.39,1241.91 L342.53,1246.07 L342.66,1250.24 L342.80,1254.40 L342.94,1258.57 L343.08,1262.75 L343.21,1266.92 L343.35,1271.10 L343.49,1275.28 L343.62,1279.45 L343.76,1283.63 L343.90,1287.80 L344.03,1292.00 L344.15,1296.26 L344.27,1300.53 L344.40,1304.80 L344.53,1309.02 L344.67,1313.17 L344.82,1317.20 L345.00,1321.10 L345.17,1324.25 L345.37,1327.25 L345.58,1330.17 L345.80,1333.03 L346.01,1335.90 L346.22,1338.82 L346.42,1341.84 L346.60,1345.00 L346.78,1348.96 L346.94,1353.04 L347.09,1357.24 L347.22,1361.53 L347.35,1365.88 L347.49,1370.27 L347.63,1374.68 L347.80,1379.10 L348.00,1383.86 L348.21,1388.69 L348.43,1393.57 L348.66,1398.48 L348.89,1403.42 L349.13,1408.36 L349.37,1413.29 L349.60,1418.20 L349.83,1423.10 L350.07,1428.00 L350.30,1432.90 L350.54,1437.80 L350.78,1442.70 L351.02,1447.60 L351.26,1452.50 L351.50,1457.40 L351.74,1462.33 L351.96,1467.31 L352.18,1472.32 L352.40,1477.31 L352.64,1482.26 L352.90,1487.13 L353.18,1491.89 L353.50,1496.50 L353.78,1500.45 L354.04,1504.40 L354.30,1508.31 L354.58,1512.14 L354.91,1515.84 L355.31,1519.39 L355.80,1522.72 L356.40,1525.80 L356.88,1527.91 L357.38,1530.05 L357.91,1532.15 L358.49,1534.13 L359.10,1535.93 L359.78,1537.48 L360.51,1538.69 L361.30,1539.50 L361.75,1539.76 L362.22,1539.95 L362.72,1540.06 L363.23,1540.10 L363.74,1540.06 L364.25,1539.95 L364.73,1539.76 L365.20,1539.50 L366.05,1538.68 L366.86,1537.45 L367.63,1535.87 L368.37,1534.04 L369.07,1532.04 L369.76,1529.94 L370.43,1527.83 L371.10,1525.80 L371.92,1523.21 L372.70,1520.49 L373.44,1517.64 L374.15,1514.69 L374.84,1511.67 L375.53,1508.60 L376.21,1505.50 L376.90,1502.40 L377.67,1498.90 L378.42,1495.32 L379.16,1491.67 L379.90,1487.98 L380.63,1484.25 L381.35,1480.50 L382.07,1476.74 L382.80,1473.00 L383.55,1469.05 L384.29,1464.94 L385.03,1460.77 L385.77,1456.60 L386.50,1452.53 L387.24,1448.64 L387.97,1445.00 L388.70,1441.70 L389.18,1439.53 L389.65,1437.24 L390.11,1434.97 L390.58,1432.83 L391.05,1430.94 L391.54,1429.42 L392.06,1428.40 L392.60,1428.00 L393.06,1428.17 L393.55,1428.70 L394.06,1429.53 L394.58,1430.60 L395.09,1431.84 L395.59,1433.18 L396.06,1434.55 L396.50,1435.90 L397.16,1438.33 L397.73,1441.10 L398.24,1444.14 L398.70,1447.40 L399.13,1450.81 L399.54,1454.30 L399.96,1457.82 L400.40,1461.30 L400.92,1465.44 L401.42,1469.77 L401.90,1474.22 L402.37,1478.74 L402.84,1483.28 L403.32,1487.79 L403.80,1492.22 L404.30,1496.50 L404.76,1500.37 L405.20,1504.28 L405.64,1508.18 L406.09,1512.03 L406.56,1515.76 L407.06,1519.33 L407.61,1522.70 L408.20,1525.80 L408.61,1527.85 L409.00,1529.87 L409.38,1531.82 L409.79,1533.68 L410.25,1535.41 L410.79,1536.98 L411.43,1538.35 L412.20,1539.50 L412.81,1540.12 L413.47,1540.61 L414.19,1541.00 L414.94,1541.32 L415.72,1541.60 L416.49,1541.87 L417.26,1542.16 L418.00,1542.50" fill="none" stroke="#0505e0" stroke-width="2.1" stroke-dasharray="13.6 8.4" stroke-linejoin="round"/>
<path d="M152.60,1542.50 L154.05,1542.29 L155.52,1542.13 L156.98,1541.98 L158.45,1541.82 L159.90,1541.63 L161.35,1541.38 L162.78,1541.04 L164.20,1540.60 L165.71,1540.02 L167.22,1539.37 L168.73,1538.64 L170.22,1537.83 L171.69,1536.94 L173.11,1535.97 L174.49,1534.93 L175.80,1533.80 L177.19,1532.42 L178.52,1530.91 L179.79,1529.28 L181.01,1527.56 L182.18,1525.77 L183.32,1523.93 L184.42,1522.07 L185.50,1520.20 L186.61,1518.19 L187.66,1516.13 L188.66,1514.02 L189.62,1511.87 L190.56,1509.67 L191.48,1507.43 L192.39,1505.14 L193.30,1502.80 L194.33,1500.07 L195.35,1497.25 L196.36,1494.35 L197.34,1491.40 L198.30,1488.42 L199.23,1485.43 L200.13,1482.45 L201.00,1479.50 L201.81,1476.60 L202.57,1473.69 L203.29,1470.77 L203.99,1467.85 L204.68,1464.93 L205.37,1462.03 L206.07,1459.15 L206.80,1456.30 L207.52,1453.58 L208.25,1450.88 L208.98,1448.19 L209.72,1445.52 L210.46,1442.87 L211.21,1440.23 L211.95,1437.61 L212.70,1435.00 L213.41,1432.50 L214.11,1429.99 L214.82,1427.49 L215.52,1425.00 L216.24,1422.56 L216.97,1420.16 L217.72,1417.84 L218.50,1415.60 L219.17,1413.76 L219.84,1411.97 L220.52,1410.23 L221.22,1408.52 L221.93,1406.86 L222.68,1405.22 L223.47,1403.60 L224.30,1402.00 L225.14,1400.44 L225.98,1398.88 L226.85,1397.33 L227.76,1395.81 L228.72,1394.33 L229.73,1392.93 L230.82,1391.61 L232.00,1390.40 L233.26,1389.26 L234.62,1388.14 L236.06,1387.07 L237.55,1386.08 L239.08,1385.20 L240.63,1384.48 L242.18,1383.93 L243.70,1383.60 L245.13,1383.51 L246.57,1383.63 L248.03,1383.91 L249.49,1384.32 L250.96,1384.83 L252.42,1385.38 L253.87,1385.95 L255.30,1386.50 L256.78,1387.07 L258.25,1387.68 L259.72,1388.33 L261.18,1389.03 L262.63,1389.78 L264.06,1390.57 L265.49,1391.41 L266.90,1392.30 L268.43,1393.35 L269.99,1394.48 L271.54,1395.70 L273.07,1396.95 L274.56,1398.24 L275.99,1399.52 L277.34,1400.78 L278.60,1402.00 L279.53,1402.93 L280.39,1403.84 L281.20,1404.72 L281.97,1405.61 L282.72,1406.51 L283.47,1407.45 L284.22,1408.44 L285.00,1409.50 L285.99,1410.88 L286.98,1412.33 L287.98,1413.83 L288.97,1415.40 L289.96,1417.02 L290.93,1418.70 L291.88,1420.42 L292.80,1422.20 L293.85,1424.42 L294.85,1426.76 L295.82,1429.21 L296.77,1431.72 L297.71,1434.26 L298.66,1436.79 L299.61,1439.29 L300.60,1441.70 L301.56,1443.95 L302.53,1446.18 L303.50,1448.39 L304.47,1450.58 L305.46,1452.76 L306.46,1454.94 L307.47,1457.12 L308.50,1459.30 L309.55,1461.54 L310.61,1463.81 L311.67,1466.10 L312.76,1468.38 L313.86,1470.62 L314.98,1472.80 L316.12,1474.90 L317.30,1476.90 L318.34,1478.54 L319.39,1480.12 L320.46,1481.64 L321.55,1483.11 L322.65,1484.55 L323.78,1485.95 L324.93,1487.33 L326.10,1488.70 L327.26,1490.00 L328.43,1491.25 L329.63,1492.48 L330.84,1493.68 L332.08,1494.86 L333.33,1496.04 L334.60,1497.22 L335.90,1498.40 L337.29,1499.64 L338.72,1500.88 L340.18,1502.11 L341.66,1503.33 L343.15,1504.54 L344.64,1505.76 L346.13,1506.98 L347.60,1508.20 L349.06,1509.43 L350.52,1510.67 L351.97,1511.91 L353.43,1513.15 L354.89,1514.39 L356.35,1515.61 L357.82,1516.82 L359.30,1518.00 L360.76,1519.15 L362.22,1520.30 L363.69,1521.43 L365.16,1522.55 L366.63,1523.66 L368.12,1524.74 L369.60,1525.78 L371.10,1526.80 L372.54,1527.75 L373.99,1528.68 L375.44,1529.58 L376.90,1530.46 L378.37,1531.32 L379.84,1532.14 L381.32,1532.94 L382.80,1533.70 L384.24,1534.41 L385.69,1535.09 L387.14,1535.75 L388.60,1536.38 L390.07,1536.98 L391.54,1537.55 L393.02,1538.09 L394.50,1538.60 L395.96,1539.07 L397.42,1539.50 L398.90,1539.91 L400.37,1540.29 L401.85,1540.63 L403.33,1540.95 L404.82,1541.24 L406.30,1541.50 L407.76,1541.71 L409.22,1541.88 L410.68,1542.01 L412.14,1542.11 L413.61,1542.21 L415.07,1542.29 L416.54,1542.39 L418.00,1542.50" fill="none" stroke="#0505e0" stroke-width="2.1" stroke-dasharray="11.2 3.9 2.9 3.9" stroke-linejoin="round"/>
<text x="76.70" y="1578.00" text-anchor="middle" class="t">7.4</text>
<text x="161.08" y="1578.00" text-anchor="middle" class="t">7.6</text>
<text x="245.46" y="1578.00" text-anchor="middle" class="t">7.8</text>
<text x="329.84" y="1578.00" text-anchor="middle" class="t">8</text>
<text x="414.22" y="1578.00" text-anchor="middle" class="t">8.2</text>
<text x="498.60" y="1578.00" text-anchor="middle" class="t">8.4</text>
<text x="63.40" y="1551.90" text-anchor="end" class="t">0</text>
<text x="63.40" y="1467.48" text-anchor="end" class="t">2</text>
<text x="63.40" y="1383.06" text-anchor="end" class="t">4</text>
<text x="63.40" y="1298.64" text-anchor="end" class="t">6</text>
<text x="63.40" y="1214.22" text-anchor="end" class="t">8</text>
<text x="63.40" y="1129.80" text-anchor="end" class="t">10</text>
<text x="287.65" y="1605.00" text-anchor="middle" class="t">pH (NBS)</text>
<text transform="translate(30.30,1331.65) rotate(-90)" text-anchor="middle" class="t">Density</text>
<text x="0.6" y="1095.7" class="L">E</text>
<path d="M659.6,1121.4H1081.1000000000001V1543.5H659.6ZM659.60,1543.5v6.5M659.60,1121.4v-6.5M743.90,1543.5v6.5M743.90,1121.4v-6.5M828.20,1543.5v6.5M828.20,1121.4v-6.5M912.50,1543.5v6.5M912.50,1121.4v-6.5M996.80,1543.5v6.5M996.80,1121.4v-6.5M1081.10,1543.5v6.5M1081.10,1121.4v-6.5M659.6,1543.50h-6.5M1081.1000000000001,1543.50h6.5M659.6,1459.08h-6.5M1081.1000000000001,1459.08h6.5M659.6,1374.66h-6.5M1081.1000000000001,1374.66h6.5M659.6,1290.24h-6.5M1081.1000000000001,1290.24h6.5M659.6,1205.82h-6.5M1081.1000000000001,1205.82h6.5M659.6,1121.40h-6.5M1081.1000000000001,1121.40h6.5" fill="none" stroke="#262626" stroke-width="1" stroke-opacity="0.48"/>
<path d="M774.70,1542.60 L776.62,1542.15 L778.58,1541.76 L780.55,1541.40 L782.52,1541.02 L784.45,1540.60 L786.34,1540.09 L788.16,1539.47 L789.90,1538.70 L791.51,1537.82 L793.07,1536.84 L794.58,1535.77 L796.04,1534.62 L797.45,1533.38 L798.81,1532.06 L800.12,1530.67 L801.40,1529.20 L802.80,1527.38 L804.12,1525.41 L805.38,1523.31 L806.58,1521.11 L807.73,1518.85 L808.84,1516.56 L809.93,1514.27 L811.00,1512.00 L812.07,1509.69 L813.10,1507.34 L814.09,1504.96 L815.05,1502.57 L815.98,1500.15 L816.88,1497.73 L817.75,1495.31 L818.60,1492.90 L819.40,1490.54 L820.16,1488.21 L820.89,1485.88 L821.59,1483.54 L822.28,1481.17 L822.95,1478.77 L823.63,1476.32 L824.30,1473.80 L825.06,1470.85 L825.80,1467.82 L826.53,1464.71 L827.25,1461.56 L827.96,1458.39 L828.67,1455.20 L829.38,1452.03 L830.10,1448.90 L830.81,1445.77 L831.51,1442.62 L832.21,1439.45 L832.91,1436.28 L833.61,1433.15 L834.32,1430.06 L835.05,1427.04 L835.80,1424.10 L836.47,1421.57 L837.13,1419.10 L837.79,1416.68 L838.47,1414.29 L839.17,1411.94 L839.90,1409.61 L840.68,1407.30 L841.50,1405.00 L842.33,1402.72 L843.16,1400.38 L844.01,1398.03 L844.90,1395.71 L845.85,1393.49 L846.87,1391.39 L847.98,1389.48 L849.20,1387.80 L850.26,1386.57 L851.40,1385.38 L852.60,1384.25 L853.84,1383.23 L855.11,1382.35 L856.39,1381.66 L857.66,1381.20 L858.90,1381.00 L860.09,1381.10 L861.31,1381.45 L862.54,1382.03 L863.77,1382.77 L864.98,1383.62 L866.15,1384.55 L867.26,1385.49 L868.30,1386.40 L869.25,1387.33 L870.13,1388.33 L870.96,1389.39 L871.74,1390.50 L872.50,1391.64 L873.26,1392.80 L874.02,1393.96 L874.80,1395.10 L875.63,1396.30 L876.43,1397.53 L877.23,1398.79 L878.03,1400.05 L878.84,1401.30 L879.67,1402.54 L880.52,1403.74 L881.40,1404.90 L882.29,1405.99 L883.21,1407.08 L884.15,1408.14 L885.11,1409.18 L886.07,1410.20 L887.05,1411.17 L888.03,1412.11 L889.00,1413.00 L889.86,1413.73 L890.71,1414.41 L891.57,1415.05 L892.43,1415.67 L893.30,1416.28 L894.18,1416.89 L895.08,1417.53 L896.00,1418.20 L897.08,1418.99 L898.20,1419.79 L899.34,1420.59 L900.50,1421.42 L901.66,1422.27 L902.80,1423.14 L903.92,1424.05 L905.00,1425.00 L906.09,1426.03 L907.16,1427.08 L908.21,1428.16 L909.24,1429.28 L910.25,1430.44 L911.25,1431.64 L912.23,1432.89 L913.20,1434.20 L914.29,1435.79 L915.36,1437.47 L916.39,1439.22 L917.41,1441.03 L918.42,1442.88 L919.41,1444.75 L920.40,1446.63 L921.40,1448.50 L922.45,1450.48 L923.49,1452.48 L924.52,1454.50 L925.55,1456.54 L926.57,1458.61 L927.59,1460.69 L928.60,1462.79 L929.60,1464.90 L930.65,1467.13 L931.69,1469.39 L932.72,1471.66 L933.75,1473.95 L934.77,1476.26 L935.78,1478.59 L936.79,1480.94 L937.80,1483.30 L938.83,1485.83 L939.85,1488.44 L940.84,1491.08 L941.84,1493.74 L942.84,1496.37 L943.86,1498.94 L944.91,1501.43 L946.00,1503.80 L946.97,1505.77 L947.95,1507.69 L948.94,1509.57 L949.95,1511.39 L950.98,1513.16 L952.03,1514.88 L953.10,1516.52 L954.20,1518.10 L955.16,1519.44 L956.13,1520.78 L957.12,1522.09 L958.12,1523.34 L959.14,1524.51 L960.20,1525.58 L961.28,1526.52 L962.40,1527.30 L963.37,1527.84 L964.37,1528.32 L965.40,1528.71 L966.44,1529.03 L967.49,1529.27 L968.54,1529.41 L969.58,1529.45 L970.60,1529.40 L971.64,1529.22 L972.68,1528.91 L973.70,1528.49 L974.73,1527.97 L975.74,1527.38 L976.76,1526.73 L977.78,1526.03 L978.80,1525.30 L980.08,1524.28 L981.34,1523.11 L982.61,1521.82 L983.87,1520.45 L985.14,1519.05 L986.42,1517.67 L987.70,1516.34 L989.00,1515.10 L990.25,1513.96 L991.50,1512.80 L992.76,1511.64 L994.03,1510.52 L995.30,1509.46 L996.59,1508.48 L997.89,1507.62 L999.20,1506.90 L1000.33,1506.38 L1001.47,1505.92 L1002.62,1505.52 L1003.78,1505.20 L1004.95,1504.96 L1006.10,1504.80 L1007.26,1504.75 L1008.40,1504.80 L1009.58,1504.98 L1010.75,1505.29 L1011.93,1505.71 L1013.10,1506.23 L1014.26,1506.82 L1015.42,1507.48 L1016.56,1508.18 L1017.70,1508.90 L1019.01,1509.82 L1020.30,1510.85 L1021.58,1511.97 L1022.86,1513.15 L1024.12,1514.38 L1025.38,1515.63 L1026.64,1516.88 L1027.90,1518.10 L1029.18,1519.36 L1030.46,1520.66 L1031.72,1521.98 L1032.98,1523.30 L1034.24,1524.63 L1035.51,1525.93 L1036.80,1527.19 L1038.10,1528.40 L1039.35,1529.53 L1040.61,1530.65 L1041.88,1531.76 L1043.16,1532.84 L1044.45,1533.88 L1045.75,1534.86 L1047.07,1535.77 L1048.40,1536.60 L1049.63,1537.28 L1050.87,1537.90 L1052.11,1538.47 L1053.37,1538.99 L1054.65,1539.46 L1055.94,1539.90 L1057.26,1540.31 L1058.60,1540.70 L1060.07,1541.07 L1061.57,1541.37 L1063.10,1541.63 L1064.66,1541.85 L1066.22,1542.06 L1067.79,1542.26 L1069.35,1542.47 L1070.90,1542.70" fill="none" stroke="#16f4f5" stroke-width="2.9" stroke-linejoin="round"/>
<path d="M839.60,1542.60 L840.83,1541.91 L842.10,1541.28 L843.39,1540.67 L844.67,1540.05 L845.91,1539.38 L847.10,1538.64 L848.21,1537.79 L849.20,1536.80 L850.19,1535.49 L851.05,1534.02 L851.81,1532.43 L852.49,1530.73 L853.11,1528.95 L853.71,1527.12 L854.30,1525.26 L854.90,1523.40 L855.60,1521.21 L856.25,1518.93 L856.86,1516.59 L857.45,1514.20 L858.01,1511.76 L858.57,1509.29 L859.13,1506.80 L859.70,1504.30 L860.33,1501.53 L860.95,1498.68 L861.56,1495.78 L862.17,1492.86 L862.77,1489.93 L863.36,1487.03 L863.93,1484.18 L864.50,1481.40 L865.00,1478.93 L865.49,1476.52 L865.96,1474.14 L866.43,1471.78 L866.89,1469.43 L867.36,1467.08 L867.82,1464.70 L868.30,1462.30 L868.80,1459.79 L869.29,1457.27 L869.79,1454.73 L870.29,1452.18 L870.79,1449.63 L871.29,1447.08 L871.79,1444.54 L872.30,1442.00 L872.81,1439.49 L873.33,1436.99 L873.86,1434.50 L874.38,1432.00 L874.90,1429.50 L875.42,1426.99 L875.92,1424.46 L876.40,1421.90 L876.89,1419.20 L877.37,1416.46 L877.84,1413.70 L878.30,1410.92 L878.75,1408.15 L879.18,1405.39 L879.60,1402.67 L880.00,1400.00 L880.35,1397.54 L880.68,1395.07 L881.00,1392.62 L881.31,1390.19 L881.61,1387.80 L881.90,1385.47 L882.20,1383.19 L882.50,1381.00 L882.75,1379.25 L883.01,1377.57 L883.26,1375.93 L883.51,1374.33 L883.76,1372.74 L884.01,1371.17 L884.25,1369.59 L884.50,1368.00 L884.74,1366.47 L884.99,1364.98 L885.24,1363.52 L885.49,1362.05 L885.74,1360.55 L885.97,1358.99 L886.19,1357.35 L886.40,1355.60 L886.66,1352.93 L886.88,1350.04 L887.07,1346.99 L887.25,1343.82 L887.42,1340.59 L887.59,1337.34 L887.78,1334.13 L888.00,1331.00 L888.24,1327.93 L888.49,1324.87 L888.76,1321.81 L889.03,1318.75 L889.30,1315.69 L889.57,1312.63 L889.84,1309.56 L890.10,1306.50 L890.35,1303.41 L890.60,1300.30 L890.84,1297.18 L891.09,1294.06 L891.33,1290.96 L891.58,1287.89 L891.84,1284.87 L892.10,1281.90 L892.35,1279.25 L892.60,1276.64 L892.86,1274.07 L893.12,1271.53 L893.38,1269.00 L893.65,1266.48 L893.92,1263.95 L894.20,1261.40 L894.48,1258.80 L894.77,1256.15 L895.06,1253.48 L895.36,1250.81 L895.66,1248.19 L895.97,1245.65 L896.28,1243.21 L896.60,1240.90 L896.84,1239.20 L897.07,1237.56 L897.29,1235.97 L897.52,1234.43 L897.77,1232.94 L898.04,1231.49 L898.35,1230.07 L898.70,1228.70 L899.03,1227.47 L899.40,1226.14 L899.78,1224.78 L900.19,1223.48 L900.61,1222.31 L901.04,1221.38 L901.47,1220.74 L901.90,1220.50 L902.30,1220.66 L902.73,1221.12 L903.17,1221.83 L903.61,1222.74 L904.04,1223.76 L904.45,1224.86 L904.85,1225.96 L905.20,1227.00 L905.63,1228.44 L906.01,1229.98 L906.34,1231.62 L906.64,1233.34 L906.91,1235.14 L907.17,1237.01 L907.43,1238.93 L907.70,1240.90 L908.05,1243.65 L908.36,1246.61 L908.66,1249.71 L908.94,1252.90 L909.22,1256.13 L909.50,1259.34 L909.79,1262.49 L910.10,1265.50 L910.40,1268.14 L910.71,1270.71 L911.03,1273.24 L911.35,1275.75 L911.67,1278.26 L911.99,1280.79 L912.30,1283.36 L912.60,1286.00 L912.92,1289.02 L913.22,1292.17 L913.52,1295.39 L913.81,1298.64 L914.10,1301.84 L914.39,1304.93 L914.69,1307.88 L915.00,1310.60 L915.23,1312.45 L915.46,1314.20 L915.69,1315.87 L915.92,1317.48 L916.16,1319.06 L916.40,1320.62 L916.64,1322.19 L916.90,1323.80 L917.16,1325.40 L917.44,1327.01 L917.72,1328.62 L918.00,1330.22 L918.29,1331.80 L918.57,1333.37 L918.84,1334.90 L919.10,1336.40 L919.29,1337.70 L919.43,1339.01 L919.56,1340.30 L919.69,1341.57 L919.84,1342.80 L920.04,1343.99 L920.32,1345.13 L920.70,1346.20 L921.11,1347.13 L921.59,1348.10 L922.12,1349.06 L922.69,1349.97 L923.28,1350.79 L923.89,1351.46 L924.50,1351.95 L925.10,1352.20 L925.56,1352.21 L926.03,1352.07 L926.51,1351.82 L926.99,1351.49 L927.47,1351.11 L927.96,1350.71 L928.43,1350.33 L928.90,1350.00 L929.36,1349.68 L929.82,1349.31 L930.27,1348.91 L930.72,1348.53 L931.16,1348.17 L931.61,1347.86 L932.05,1347.63 L932.50,1347.50 L932.88,1347.46 L933.28,1347.46 L933.67,1347.51 L934.06,1347.60 L934.45,1347.73 L934.82,1347.91 L935.17,1348.13 L935.50,1348.40 L935.96,1348.96 L936.36,1349.71 L936.72,1350.59 L937.04,1351.57 L937.34,1352.59 L937.63,1353.62 L937.91,1354.61 L938.20,1355.50 L938.45,1356.21 L938.70,1356.88 L938.94,1357.54 L939.17,1358.19 L939.39,1358.85 L939.60,1359.53 L939.80,1360.24 L940.00,1361.00 L940.23,1362.02 L940.45,1363.09 L940.64,1364.20 L940.83,1365.35 L941.00,1366.53 L941.17,1367.74 L941.34,1368.96 L941.50,1370.20 L941.68,1371.70 L941.85,1373.27 L942.00,1374.90 L942.15,1376.55 L942.30,1378.19 L942.45,1379.80 L942.62,1381.34 L942.80,1382.80 L942.96,1383.91 L943.14,1384.97 L943.32,1385.99 L943.50,1387.00 L943.69,1387.98 L943.87,1388.97 L944.04,1389.97 L944.20,1391.00 L944.35,1392.05 L944.50,1393.06 L944.64,1394.06 L944.77,1395.08 L944.90,1396.13 L945.03,1397.23 L945.17,1398.42 L945.30,1399.70 L945.51,1401.96 L945.71,1404.45 L945.90,1407.12 L946.10,1409.94 L946.30,1412.86 L946.52,1415.86 L946.75,1418.88 L947.00,1421.90 L947.33,1425.50 L947.69,1429.23 L948.08,1433.05 L948.48,1436.94 L948.89,1440.87 L949.30,1444.81 L949.70,1448.73 L950.10,1452.60 L950.49,1456.46 L950.87,1460.36 L951.25,1464.26 L951.63,1468.16 L952.02,1472.04 L952.41,1475.87 L952.80,1479.63 L953.20,1483.30 L953.55,1486.54 L953.88,1489.77 L954.22,1492.95 L954.55,1496.10 L954.91,1499.18 L955.29,1502.18 L955.72,1505.09 L956.20,1507.90 L956.63,1510.15 L957.10,1512.35 L957.58,1514.49 L958.09,1516.58 L958.62,1518.61 L959.16,1520.58 L959.73,1522.47 L960.30,1524.30 L960.76,1525.72 L961.21,1527.10 L961.67,1528.43 L962.14,1529.73 L962.64,1530.98 L963.17,1532.19 L963.76,1533.37 L964.40,1534.50 L965.06,1535.55 L965.77,1536.60 L966.51,1537.64 L967.30,1538.63 L968.10,1539.55 L968.93,1540.39 L969.76,1541.11 L970.60,1541.70 L971.25,1542.04 L971.91,1542.28 L972.58,1542.45 L973.26,1542.58 L973.95,1542.67 L974.64,1542.76 L975.32,1542.86 L976.00,1543.00" fill="none" stroke="#16f4f5" stroke-width="2.1" stroke-dasharray="13.6 8.4" stroke-linejoin="round"/>
<path d="M660.40,1542.60 L662.74,1542.49 L665.07,1542.41 L667.41,1542.34 L669.75,1542.27 L672.09,1542.17 L674.42,1542.04 L676.76,1541.85 L679.10,1541.60 L681.49,1541.28 L683.89,1540.93 L686.28,1540.54 L688.68,1540.10 L691.07,1539.61 L693.46,1539.07 L695.84,1538.47 L698.20,1537.80 L700.62,1537.04 L703.03,1536.22 L705.43,1535.34 L707.83,1534.39 L710.21,1533.39 L712.59,1532.34 L714.95,1531.24 L717.30,1530.10 L719.73,1528.86 L722.14,1527.55 L724.55,1526.19 L726.94,1524.77 L729.32,1523.31 L731.69,1521.80 L734.05,1520.27 L736.40,1518.70 L738.83,1517.04 L741.24,1515.33 L743.64,1513.59 L746.03,1511.80 L748.41,1509.97 L750.78,1508.11 L753.15,1506.22 L755.50,1504.30 L757.93,1502.26 L760.35,1500.16 L762.75,1498.02 L765.14,1495.84 L767.53,1493.65 L769.92,1491.46 L772.31,1489.27 L774.70,1487.10 L777.08,1484.93 L779.46,1482.72 L781.82,1480.51 L784.19,1478.30 L786.57,1476.11 L788.96,1473.97 L791.37,1471.89 L793.80,1469.90 L796.14,1468.06 L798.49,1466.26 L800.85,1464.50 L803.23,1462.79 L805.62,1461.14 L808.03,1459.55 L810.46,1458.03 L812.90,1456.60 L815.24,1455.31 L817.59,1454.07 L819.96,1452.88 L822.35,1451.77 L824.74,1450.71 L827.15,1449.73 L829.57,1448.83 L832.00,1448.00 L834.39,1447.28 L836.84,1446.63 L839.32,1446.05 L841.80,1445.53 L844.25,1445.08 L846.64,1444.69 L848.93,1444.37 L851.10,1444.10 L852.66,1443.94 L854.15,1443.82 L855.57,1443.74 L856.96,1443.70 L858.33,1443.69 L859.72,1443.70 L861.13,1443.74 L862.60,1443.80 L864.27,1443.89 L865.96,1444.00 L867.69,1444.15 L869.42,1444.33 L871.17,1444.54 L872.92,1444.79 L874.67,1445.08 L876.40,1445.40 L878.19,1445.77 L879.99,1446.18 L881.78,1446.63 L883.58,1447.12 L885.37,1447.65 L887.16,1448.22 L888.94,1448.84 L890.70,1449.50 L892.52,1450.24 L894.33,1451.03 L896.13,1451.87 L897.92,1452.76 L899.70,1453.69 L901.48,1454.66 L903.24,1455.66 L905.00,1456.70 L906.84,1457.84 L908.68,1459.05 L910.51,1460.30 L912.34,1461.59 L914.14,1462.91 L915.92,1464.24 L917.68,1465.58 L919.40,1466.90 L921.01,1468.14 L922.59,1469.37 L924.16,1470.60 L925.69,1471.84 L927.22,1473.11 L928.72,1474.42 L930.22,1475.78 L931.70,1477.20 L933.29,1478.83 L934.85,1480.55 L936.39,1482.32 L937.92,1484.14 L939.44,1485.99 L940.96,1487.85 L942.47,1489.69 L944.00,1491.50 L945.52,1493.30 L947.04,1495.11 L948.55,1496.93 L950.07,1498.74 L951.58,1500.55 L953.11,1502.33 L954.65,1504.09 L956.20,1505.80 L957.70,1507.42 L959.19,1509.02 L960.69,1510.61 L962.19,1512.17 L963.72,1513.70 L965.27,1515.20 L966.86,1516.67 L968.50,1518.10 L970.19,1519.51 L971.92,1520.90 L973.67,1522.26 L975.46,1523.58 L977.28,1524.87 L979.12,1526.10 L981.00,1527.28 L982.90,1528.40 L984.84,1529.46 L986.83,1530.47 L988.85,1531.43 L990.90,1532.33 L992.97,1533.19 L995.04,1534.01 L997.12,1534.77 L999.20,1535.50 L1001.22,1536.16 L1003.24,1536.76 L1005.26,1537.31 L1007.30,1537.82 L1009.35,1538.29 L1011.41,1538.75 L1013.49,1539.18 L1015.60,1539.60 L1017.83,1540.03 L1020.09,1540.43 L1022.36,1540.82 L1024.66,1541.17 L1026.97,1541.50 L1029.29,1541.80 L1031.64,1542.06 L1034.00,1542.30 L1036.55,1542.50 L1039.20,1542.66 L1041.91,1542.78 L1044.61,1542.87 L1047.27,1542.94 L1049.84,1542.99 L1052.26,1543.04 L1054.50,1543.10 L1055.96,1543.14 L1057.32,1543.17 L1058.62,1543.20 L1059.87,1543.22 L1061.09,1543.24 L1062.31,1543.26 L1063.54,1543.28 L1064.80,1543.30" fill="none" stroke="#16f4f5" stroke-width="2.1" stroke-dasharray="11.2 3.9 2.9 3.9" stroke-linejoin="round"/>
<text x="659.60" y="1578.00" text-anchor="middle" class="t">7.4</text>
<text x="743.90" y="1578.00" text-anchor="middle" class="t">7.6</text>
<text x="828.20" y="1578.00" text-anchor="middle" class="t">7.8</text>
<text x="912.50" y="1578.00" text-anchor="middle" class="t">8</text>
<text x="996.80" y="1578.00" text-anchor="middle" class="t">8.2</text>
<text x="1081.10" y="1578.00" text-anchor="middle" class="t">8.4</text>
<text x="645.30" y="1551.90" text-anchor="end" class="t">0</text>
<text x="645.30" y="1467.48" text-anchor="end" class="t">2</text>
<text x="645.30" y="1383.06" text-anchor="end" class="t">4</text>
<text x="645.30" y="1298.64" text-anchor="end" class="t">6</text>
<text x="645.30" y="1214.22" text-anchor="end" class="t">8</text>
<text x="645.30" y="1129.80" text-anchor="end" class="t">10</text>
<text x="870.35" y="1605.00" text-anchor="middle" class="t">pH (NBS)</text>
<text transform="translate(613.20,1331.65) rotate(-90)" text-anchor="middle" class="t">Density</text>
<text x="591" y="1095.5" class="L">F</text>
<path d="M76.7,1664.4H498.59999999999997V2086.1H76.7ZM111.86,2086.1v6.5M111.86,1664.4v-6.5M182.18,2086.1v6.5M182.18,1664.4v-6.5M252.49,2086.1v6.5M252.49,1664.4v-6.5M322.81,2086.1v6.5M322.81,1664.4v-6.5M393.12,2086.1v6.5M393.12,1664.4v-6.5M463.44,2086.1v6.5M463.44,1664.4v-6.5M76.7,2086.10h-6.5M498.59999999999997,2086.10h6.5M76.7,2033.39h-6.5M498.59999999999997,2033.39h6.5M76.7,1980.67h-6.5M498.59999999999997,1980.67h6.5M76.7,1927.96h-6.5M498.59999999999997,1927.96h6.5M76.7,1875.25h-6.5M498.59999999999997,1875.25h6.5M76.7,1822.54h-6.5M498.59999999999997,1822.54h6.5M76.7,1769.83h-6.5M498.59999999999997,1769.83h6.5M76.7,1717.11h-6.5M498.59999999999997,1717.11h6.5M76.7,1664.40h-6.5M498.59999999999997,1664.40h6.5" fill="none" stroke="#262626" stroke-width="1" stroke-opacity="0.48"/>
<path d="M150.90,2085.60 L152.29,2085.53 L153.68,2085.46 L155.07,2085.40 L156.46,2085.33 L157.85,2085.26 L159.24,2085.19 L160.62,2085.10 L162.00,2085.00 L163.36,2084.90 L164.71,2084.80 L166.07,2084.69 L167.42,2084.58 L168.76,2084.45 L170.11,2084.30 L171.46,2084.11 L172.80,2083.90 L174.17,2083.66 L175.54,2083.40 L176.91,2083.12 L178.28,2082.81 L179.65,2082.47 L181.01,2082.09 L182.36,2081.67 L183.70,2081.20 L185.10,2080.66 L186.50,2080.07 L187.91,2079.44 L189.30,2078.77 L190.68,2078.05 L192.03,2077.30 L193.34,2076.52 L194.60,2075.70 L195.79,2074.87 L196.94,2074.00 L198.06,2073.09 L199.15,2072.15 L200.21,2071.18 L201.26,2070.18 L202.29,2069.15 L203.30,2068.10 L204.33,2066.99 L205.34,2065.85 L206.33,2064.68 L207.29,2063.48 L208.24,2062.24 L209.17,2060.97 L210.09,2059.66 L211.00,2058.30 L212.02,2056.70 L213.02,2055.04 L214.01,2053.32 L214.97,2051.56 L215.92,2049.75 L216.84,2047.90 L217.73,2046.02 L218.60,2044.10 L219.52,2041.92 L220.41,2039.68 L221.27,2037.38 L222.10,2035.03 L222.90,2032.66 L223.68,2030.27 L224.45,2027.88 L225.20,2025.50 L225.94,2023.09 L226.65,2020.68 L227.33,2018.25 L227.99,2015.82 L228.65,2013.37 L229.29,2010.90 L229.94,2008.41 L230.60,2005.90 L231.30,2003.22 L232.01,2000.50 L232.72,1997.76 L233.42,1995.00 L234.12,1992.23 L234.80,1989.47 L235.46,1986.72 L236.10,1984.00 L236.70,1981.37 L237.28,1978.73 L237.84,1976.08 L238.39,1973.45 L238.93,1970.85 L239.46,1968.28 L239.98,1965.76 L240.50,1963.30 L240.94,1961.22 L241.36,1959.21 L241.77,1957.26 L242.17,1955.32 L242.58,1953.39 L243.00,1951.42 L243.44,1949.40 L243.90,1947.30 L244.48,1944.72 L245.08,1942.05 L245.71,1939.30 L246.35,1936.51 L247.01,1933.70 L247.67,1930.91 L248.34,1928.17 L249.00,1925.50 L249.62,1923.06 L250.25,1920.66 L250.88,1918.27 L251.52,1915.91 L252.16,1913.57 L252.80,1911.24 L253.45,1908.92 L254.10,1906.60 L254.73,1904.37 L255.35,1902.13 L255.98,1899.91 L256.61,1897.69 L257.25,1895.50 L257.89,1893.33 L258.54,1891.20 L259.20,1889.10 L259.81,1887.21 L260.43,1885.36 L261.05,1883.53 L261.68,1881.72 L262.32,1879.93 L262.97,1878.15 L263.63,1876.38 L264.30,1874.60 L264.98,1872.85 L265.67,1871.10 L266.37,1869.35 L267.08,1867.61 L267.80,1865.88 L268.53,1864.19 L269.26,1862.52 L270.00,1860.90 L270.65,1859.44 L271.26,1857.98 L271.86,1856.53 L272.48,1855.11 L273.13,1853.74 L273.84,1852.42 L274.62,1851.16 L275.50,1850.00 L276.46,1848.89 L277.50,1847.76 L278.62,1846.64 L279.79,1845.60 L280.99,1844.69 L282.21,1843.95 L283.42,1843.44 L284.60,1843.20 L285.73,1843.26 L286.88,1843.58 L288.05,1844.11 L289.22,1844.79 L290.38,1845.59 L291.53,1846.46 L292.63,1847.34 L293.70,1848.20 L294.80,1849.15 L295.85,1850.21 L296.87,1851.33 L297.86,1852.51 L298.84,1853.72 L299.81,1854.94 L300.80,1856.14 L301.80,1857.30 L302.82,1858.45 L303.83,1859.63 L304.84,1860.81 L305.85,1861.99 L306.87,1863.15 L307.90,1864.28 L308.94,1865.37 L310.00,1866.40 L310.99,1867.32 L311.98,1868.24 L312.99,1869.14 L314.00,1870.01 L315.03,1870.82 L316.07,1871.57 L317.12,1872.23 L318.20,1872.80 L319.18,1873.23 L320.18,1873.59 L321.20,1873.90 L322.22,1874.15 L323.26,1874.34 L324.30,1874.48 L325.35,1874.56 L326.40,1874.60 L327.51,1874.55 L328.63,1874.39 L329.75,1874.16 L330.89,1873.88 L332.03,1873.57 L333.18,1873.27 L334.34,1873.01 L335.50,1872.80 L336.73,1872.61 L337.99,1872.41 L339.26,1872.22 L340.54,1872.04 L341.81,1871.90 L343.07,1871.82 L344.30,1871.82 L345.50,1871.90 L346.58,1872.06 L347.65,1872.28 L348.70,1872.55 L349.73,1872.88 L350.75,1873.25 L351.75,1873.67 L352.73,1874.12 L353.70,1874.60 L354.68,1875.14 L355.64,1875.73 L356.59,1876.37 L357.52,1877.05 L358.43,1877.77 L359.32,1878.50 L360.17,1879.25 L361.00,1880.00 L361.77,1880.74 L362.52,1881.49 L363.25,1882.26 L363.95,1883.05 L364.62,1883.86 L365.28,1884.68 L365.90,1885.53 L366.50,1886.40 L367.06,1887.31 L367.58,1888.24 L368.06,1889.20 L368.52,1890.17 L368.96,1891.17 L369.42,1892.17 L369.89,1893.18 L370.40,1894.20 L371.00,1895.34 L371.63,1896.49 L372.27,1897.65 L372.92,1898.82 L373.58,1900.01 L374.23,1901.22 L374.88,1902.45 L375.50,1903.70 L376.16,1905.08 L376.83,1906.49 L377.48,1907.93 L378.13,1909.38 L378.77,1910.85 L379.40,1912.33 L380.01,1913.81 L380.60,1915.30 L381.18,1916.82 L381.74,1918.35 L382.28,1919.89 L382.81,1921.44 L383.33,1923.00 L383.85,1924.56 L384.37,1926.13 L384.90,1927.70 L385.45,1929.32 L386.00,1930.95 L386.55,1932.58 L387.10,1934.23 L387.65,1935.87 L388.20,1937.52 L388.75,1939.16 L389.30,1940.80 L389.85,1942.44 L390.40,1944.08 L390.95,1945.73 L391.50,1947.37 L392.05,1949.02 L392.60,1950.65 L393.15,1952.28 L393.70,1953.90 L394.24,1955.47 L394.77,1957.03 L395.31,1958.58 L395.84,1960.13 L396.38,1961.67 L396.92,1963.21 L397.46,1964.76 L398.00,1966.30 L398.55,1967.85 L399.11,1969.40 L399.67,1970.95 L400.23,1972.50 L400.79,1974.04 L401.34,1975.58 L401.88,1977.10 L402.40,1978.60 L402.87,1979.97 L403.32,1981.31 L403.76,1982.62 L404.19,1983.93 L404.63,1985.25 L405.07,1986.61 L405.52,1988.02 L406.00,1989.50 L406.62,1991.47 L407.25,1993.54 L407.89,1995.70 L408.55,1997.90 L409.22,2000.14 L409.92,2002.38 L410.65,2004.61 L411.40,2006.80 L412.21,2009.01 L413.04,2011.22 L413.91,2013.42 L414.80,2015.62 L415.71,2017.83 L416.63,2020.04 L417.56,2022.27 L418.50,2024.50 L419.49,2026.85 L420.49,2029.24 L421.51,2031.65 L422.55,2034.06 L423.59,2036.46 L424.65,2038.82 L425.72,2041.14 L426.80,2043.40 L427.80,2045.43 L428.79,2047.43 L429.80,2049.40 L430.81,2051.34 L431.85,2053.25 L432.90,2055.13 L433.98,2056.98 L435.10,2058.80 L436.19,2060.54 L437.29,2062.30 L438.40,2064.04 L439.54,2065.74 L440.71,2067.39 L441.93,2068.97 L443.19,2070.44 L444.50,2071.80 L445.72,2072.92 L446.98,2073.96 L448.27,2074.93 L449.59,2075.84 L450.95,2076.69 L452.34,2077.47 L453.75,2078.21 L455.20,2078.90 L456.72,2079.54 L458.29,2080.10 L459.89,2080.60 L461.52,2081.05 L463.18,2081.45 L464.85,2081.82 L466.52,2082.16 L468.20,2082.50 L469.96,2082.83 L471.76,2083.12 L473.59,2083.39 L475.43,2083.62 L477.25,2083.83 L479.03,2084.01 L480.76,2084.16 L482.40,2084.30 L483.67,2084.39 L484.88,2084.45 L486.06,2084.49 L487.22,2084.51 L488.36,2084.53 L489.49,2084.55 L490.64,2084.57 L491.80,2084.60" fill="none" stroke="#0505e0" stroke-width="2.9" stroke-linejoin="round"/>
<path d="M105.60,2085.60 L107.83,2085.53 L110.07,2085.48 L112.30,2085.42 L114.54,2085.37 L116.77,2085.30 L119.00,2085.23 L121.21,2085.13 L123.40,2085.00 L125.53,2084.86 L127.68,2084.70 L129.83,2084.53 L131.96,2084.34 L134.06,2084.13 L136.12,2083.91 L138.10,2083.66 L140.00,2083.40 L141.48,2083.18 L142.90,2082.95 L144.28,2082.72 L145.62,2082.48 L146.94,2082.21 L148.25,2081.91 L149.57,2081.58 L150.90,2081.20 L152.28,2080.77 L153.65,2080.29 L155.03,2079.79 L156.39,2079.25 L157.75,2078.68 L159.11,2078.08 L160.46,2077.45 L161.80,2076.80 L163.20,2076.09 L164.59,2075.35 L165.98,2074.58 L167.36,2073.78 L168.73,2072.95 L170.10,2072.10 L171.45,2071.21 L172.80,2070.30 L174.19,2069.31 L175.57,2068.28 L176.94,2067.22 L178.31,2066.13 L179.66,2065.02 L181.01,2063.89 L182.36,2062.74 L183.70,2061.60 L185.08,2060.42 L186.46,2059.24 L187.84,2058.06 L189.22,2056.85 L190.58,2055.62 L191.93,2054.35 L193.27,2053.05 L194.60,2051.70 L196.01,2050.20 L197.40,2048.65 L198.78,2047.06 L200.15,2045.44 L201.50,2043.78 L202.85,2042.08 L204.18,2040.35 L205.50,2038.60 L206.91,2036.67 L208.29,2034.70 L209.67,2032.68 L211.03,2030.63 L212.38,2028.55 L213.72,2026.45 L215.06,2024.33 L216.40,2022.20 L217.81,2019.95 L219.24,2017.66 L220.68,2015.34 L222.10,2013.00 L223.50,2010.65 L224.86,2008.31 L226.16,2005.99 L227.40,2003.70 L228.47,2001.63 L229.48,1999.59 L230.44,1997.56 L231.37,1995.54 L232.28,1993.52 L233.18,1991.47 L234.08,1989.40 L235.00,1987.30 L235.96,1985.02 L236.90,1982.69 L237.83,1980.31 L238.76,1977.93 L239.69,1975.55 L240.63,1973.20 L241.60,1970.91 L242.60,1968.70 L243.54,1966.76 L244.51,1964.90 L245.50,1963.09 L246.50,1961.30 L247.50,1959.51 L248.51,1957.70 L249.51,1955.83 L250.50,1953.90 L251.59,1951.66 L252.67,1949.37 L253.75,1947.03 L254.83,1944.65 L255.91,1942.25 L257.00,1939.83 L258.09,1937.41 L259.20,1935.00 L260.36,1932.46 L261.52,1929.87 L262.68,1927.26 L263.85,1924.63 L265.03,1922.03 L266.23,1919.48 L267.45,1916.99 L268.70,1914.60 L269.85,1912.50 L271.03,1910.41 L272.23,1908.35 L273.45,1906.34 L274.66,1904.40 L275.87,1902.54 L277.05,1900.81 L278.20,1899.20 L279.01,1898.12 L279.78,1897.10 L280.54,1896.14 L281.30,1895.24 L282.06,1894.37 L282.86,1893.53 L283.70,1892.71 L284.60,1891.90 L285.62,1891.04 L286.70,1890.17 L287.83,1889.32 L288.98,1888.51 L290.16,1887.75 L291.35,1887.07 L292.53,1886.48 L293.70,1886.00 L294.70,1885.69 L295.70,1885.45 L296.70,1885.29 L297.71,1885.18 L298.72,1885.11 L299.74,1885.09 L300.76,1885.09 L301.80,1885.10 L302.91,1885.15 L304.03,1885.24 L305.16,1885.38 L306.29,1885.55 L307.44,1885.75 L308.58,1885.96 L309.74,1886.18 L310.90,1886.40 L312.15,1886.66 L313.43,1886.95 L314.72,1887.28 L316.02,1887.61 L317.31,1887.94 L318.58,1888.24 L319.81,1888.50 L321.00,1888.70 L321.95,1888.82 L322.85,1888.92 L323.73,1889.00 L324.60,1889.05 L325.46,1889.09 L326.34,1889.11 L327.25,1889.11 L328.20,1889.10 L329.38,1889.07 L330.60,1889.02 L331.86,1888.95 L333.14,1888.86 L334.43,1888.74 L335.71,1888.59 L336.97,1888.41 L338.20,1888.20 L339.36,1887.94 L340.49,1887.62 L341.61,1887.26 L342.72,1886.88 L343.84,1886.49 L344.97,1886.12 L346.12,1885.79 L347.30,1885.50 L348.63,1885.22 L350.02,1884.93 L351.45,1884.66 L352.88,1884.41 L354.30,1884.22 L355.70,1884.09 L357.04,1884.04 L358.30,1884.10 L359.29,1884.22 L360.23,1884.40 L361.15,1884.64 L362.04,1884.92 L362.91,1885.24 L363.78,1885.60 L364.64,1885.99 L365.50,1886.40 L366.43,1886.87 L367.35,1887.38 L368.27,1887.92 L369.17,1888.50 L370.06,1889.13 L370.94,1889.80 L371.78,1890.52 L372.60,1891.30 L373.49,1892.27 L374.33,1893.30 L375.13,1894.40 L375.90,1895.57 L376.67,1896.79 L377.45,1898.08 L378.25,1899.41 L379.10,1900.80 L380.35,1902.83 L381.66,1905.02 L383.02,1907.34 L384.40,1909.75 L385.79,1912.22 L387.14,1914.73 L388.46,1917.23 L389.70,1919.70 L390.89,1922.19 L392.05,1924.70 L393.17,1927.24 L394.26,1929.79 L395.33,1932.36 L396.37,1934.94 L397.39,1937.52 L398.40,1940.10 L399.38,1942.67 L400.32,1945.25 L401.23,1947.84 L402.13,1950.44 L403.02,1953.03 L403.90,1955.63 L404.79,1958.22 L405.70,1960.80 L406.63,1963.38 L407.57,1966.00 L408.53,1968.64 L409.49,1971.26 L410.42,1973.85 L411.33,1976.38 L412.19,1978.84 L413.00,1981.20 L413.59,1983.02 L414.13,1984.74 L414.63,1986.40 L415.12,1988.04 L415.60,1989.67 L416.12,1991.34 L416.68,1993.07 L417.30,1994.90 L418.18,1997.35 L419.12,1999.92 L420.13,2002.57 L421.18,2005.28 L422.27,2008.03 L423.37,2010.78 L424.49,2013.52 L425.60,2016.20 L426.73,2018.89 L427.87,2021.61 L429.04,2024.34 L430.22,2027.06 L431.42,2029.75 L432.63,2032.40 L433.86,2034.99 L435.10,2037.50 L436.22,2039.72 L437.35,2041.89 L438.48,2044.04 L439.62,2046.14 L440.79,2048.19 L441.99,2050.21 L443.22,2052.18 L444.50,2054.10 L445.74,2055.87 L447.01,2057.60 L448.30,2059.29 L449.63,2060.95 L450.98,2062.56 L452.36,2064.12 L453.76,2065.64 L455.20,2067.10 L456.59,2068.45 L458.00,2069.76 L459.43,2071.04 L460.89,2072.28 L462.38,2073.46 L463.89,2074.58 L465.43,2075.63 L467.00,2076.60 L468.55,2077.46 L470.14,2078.26 L471.77,2078.99 L473.42,2079.66 L475.07,2080.28 L476.73,2080.86 L478.38,2081.40 L480.00,2081.90 L481.49,2082.32 L482.97,2082.67 L484.44,2082.98 L485.91,2083.25 L487.39,2083.51 L488.86,2083.76 L490.33,2084.02 L491.80,2084.30" fill="none" stroke="#0505e0" stroke-width="2.1" stroke-dasharray="13.6 8.4" stroke-linejoin="round"/>
<path d="M105.60,2085.00 L106.93,2084.87 L108.25,2084.75 L109.56,2084.65 L110.87,2084.55 L112.19,2084.42 L113.54,2084.26 L114.90,2084.06 L116.30,2083.80 L118.01,2083.41 L119.80,2082.96 L121.64,2082.44 L123.49,2081.88 L125.33,2081.28 L127.13,2080.66 L128.87,2080.03 L130.50,2079.40 L131.80,2078.87 L133.03,2078.34 L134.22,2077.79 L135.38,2077.23 L136.52,2076.65 L137.66,2076.04 L138.82,2075.39 L140.00,2074.70 L141.36,2073.88 L142.73,2073.03 L144.11,2072.13 L145.49,2071.20 L146.87,2070.22 L148.24,2069.20 L149.58,2068.13 L150.90,2067.00 L152.33,2065.70 L153.74,2064.35 L155.13,2062.94 L156.50,2061.47 L157.86,2059.94 L159.19,2058.35 L160.51,2056.71 L161.80,2055.00 L163.26,2052.93 L164.68,2050.74 L166.07,2048.45 L167.44,2046.10 L168.79,2043.69 L170.13,2041.26 L171.46,2038.82 L172.80,2036.40 L174.19,2033.88 L175.56,2031.32 L176.93,2028.74 L178.29,2026.14 L179.64,2023.53 L180.99,2020.91 L182.34,2018.30 L183.70,2015.70 L185.06,2013.09 L186.41,2010.47 L187.77,2007.84 L189.12,2005.21 L190.48,2002.59 L191.84,2000.00 L193.21,1997.43 L194.60,1994.90 L195.93,1992.49 L197.25,1990.06 L198.58,1987.64 L199.91,1985.25 L201.26,1982.91 L202.64,1980.64 L204.05,1978.46 L205.50,1976.40 L206.78,1974.66 L208.08,1972.95 L209.39,1971.27 L210.73,1969.66 L212.09,1968.15 L213.49,1966.75 L214.92,1965.49 L216.40,1964.40 L217.72,1963.61 L219.10,1962.91 L220.52,1962.31 L221.96,1961.80 L223.39,1961.37 L224.79,1961.02 L226.14,1960.73 L227.40,1960.50 L228.29,1960.37 L229.13,1960.27 L229.95,1960.22 L230.74,1960.20 L231.53,1960.23 L232.33,1960.31 L233.15,1960.43 L234.00,1960.60 L235.09,1960.90 L236.21,1961.30 L237.35,1961.78 L238.50,1962.32 L239.66,1962.91 L240.84,1963.53 L242.02,1964.17 L243.20,1964.80 L244.53,1965.55 L245.87,1966.38 L247.22,1967.26 L248.57,1968.16 L249.94,1969.05 L251.32,1969.91 L252.70,1970.70 L254.10,1971.40 L255.44,1972.01 L256.78,1972.60 L258.14,1973.17 L259.50,1973.69 L260.87,1974.14 L262.25,1974.53 L263.62,1974.82 L265.00,1975.00 L266.37,1975.10 L267.77,1975.14 L269.19,1975.11 L270.60,1974.99 L272.00,1974.79 L273.36,1974.48 L274.66,1974.05 L275.90,1973.50 L277.17,1972.72 L278.39,1971.76 L279.56,1970.64 L280.68,1969.41 L281.75,1968.11 L282.78,1966.76 L283.76,1965.41 L284.70,1964.10 L285.56,1962.83 L286.36,1961.52 L287.10,1960.19 L287.80,1958.83 L288.48,1957.45 L289.14,1956.05 L289.81,1954.63 L290.50,1953.20 L291.25,1951.64 L291.99,1950.04 L292.72,1948.43 L293.44,1946.79 L294.16,1945.13 L294.88,1943.47 L295.59,1941.79 L296.30,1940.10 L297.04,1938.32 L297.77,1936.51 L298.49,1934.69 L299.21,1932.85 L299.93,1931.01 L300.65,1929.17 L301.37,1927.33 L302.10,1925.50 L302.83,1923.68 L303.57,1921.86 L304.31,1920.04 L305.05,1918.22 L305.79,1916.40 L306.53,1914.59 L307.26,1912.79 L308.00,1911.00 L308.73,1909.27 L309.47,1907.54 L310.23,1905.82 L310.97,1904.11 L311.71,1902.40 L312.41,1900.70 L313.08,1899.00 L313.70,1897.30 L314.22,1895.70 L314.68,1894.12 L315.11,1892.53 L315.51,1890.95 L315.91,1889.37 L316.33,1887.79 L316.79,1886.20 L317.30,1884.60 L317.90,1882.89 L318.55,1881.17 L319.22,1879.43 L319.92,1877.70 L320.64,1875.97 L321.37,1874.25 L322.09,1872.56 L322.80,1870.90 L323.45,1869.36 L324.10,1867.83 L324.74,1866.31 L325.39,1864.81 L326.05,1863.33 L326.73,1861.88 L327.45,1860.47 L328.20,1859.10 L328.92,1857.86 L329.66,1856.62 L330.42,1855.41 L331.21,1854.24 L332.01,1853.10 L332.84,1852.00 L333.71,1850.97 L334.60,1850.00 L335.45,1849.16 L336.33,1848.34 L337.25,1847.54 L338.18,1846.80 L339.12,1846.11 L340.07,1845.51 L340.99,1845.00 L341.90,1844.60 L342.59,1844.36 L343.28,1844.16 L343.96,1844.01 L344.64,1843.91 L345.32,1843.86 L345.99,1843.88 L346.65,1843.95 L347.30,1844.10 L348.02,1844.36 L348.75,1844.74 L349.46,1845.20 L350.16,1845.73 L350.85,1846.31 L351.52,1846.93 L352.17,1847.57 L352.80,1848.20 L353.44,1848.90 L354.05,1849.64 L354.63,1850.42 L355.20,1851.24 L355.75,1852.07 L356.30,1852.91 L356.85,1853.76 L357.40,1854.60 L357.98,1855.46 L358.57,1856.31 L359.15,1857.17 L359.73,1858.03 L360.30,1858.92 L360.85,1859.84 L361.39,1860.80 L361.90,1861.80 L362.48,1863.08 L363.02,1864.45 L363.53,1865.89 L364.03,1867.36 L364.52,1868.85 L365.00,1870.32 L365.49,1871.74 L366.00,1873.10 L366.46,1874.23 L366.92,1875.32 L367.39,1876.37 L367.85,1877.41 L368.32,1878.45 L368.78,1879.52 L369.24,1880.63 L369.70,1881.80 L370.25,1883.31 L370.80,1884.92 L371.34,1886.58 L371.88,1888.28 L372.42,1889.99 L372.95,1891.68 L373.48,1893.33 L374.00,1894.90 L374.45,1896.21 L374.89,1897.46 L375.32,1898.67 L375.75,1899.86 L376.17,1901.07 L376.61,1902.32 L377.05,1903.62 L377.50,1905.00 L378.10,1906.89 L378.70,1908.88 L379.32,1910.94 L379.95,1913.07 L380.58,1915.25 L381.22,1917.48 L381.86,1919.73 L382.50,1922.00 L383.24,1924.68 L384.00,1927.47 L384.76,1930.34 L385.53,1933.25 L386.30,1936.15 L387.07,1939.00 L387.84,1941.76 L388.60,1944.40 L389.25,1946.53 L389.90,1948.59 L390.55,1950.60 L391.20,1952.57 L391.85,1954.52 L392.48,1956.46 L393.10,1958.41 L393.70,1960.40 L394.28,1962.42 L394.85,1964.48 L395.40,1966.55 L395.94,1968.62 L396.48,1970.66 L397.00,1972.65 L397.50,1974.57 L398.00,1976.40 L398.37,1977.76 L398.72,1979.03 L399.05,1980.25 L399.38,1981.44 L399.71,1982.63 L400.07,1983.87 L400.46,1985.18 L400.90,1986.60 L401.61,1988.81 L402.39,1991.18 L403.23,1993.69 L404.12,1996.30 L405.04,1998.95 L405.99,2001.61 L406.95,2004.24 L407.90,2006.80 L408.87,2009.33 L409.86,2011.88 L410.87,2014.42 L411.89,2016.96 L412.93,2019.48 L413.98,2021.99 L415.04,2024.46 L416.10,2026.90 L417.10,2029.18 L418.11,2031.44 L419.12,2033.68 L420.14,2035.89 L421.17,2038.09 L422.22,2040.27 L423.30,2042.44 L424.40,2044.60 L425.52,2046.75 L426.65,2048.92 L427.80,2051.09 L428.97,2053.24 L430.17,2055.35 L431.39,2057.39 L432.63,2059.35 L433.90,2061.20 L435.01,2062.72 L436.14,2064.19 L437.28,2065.61 L438.44,2066.98 L439.62,2068.28 L440.83,2069.52 L442.05,2070.70 L443.30,2071.80 L444.42,2072.71 L445.56,2073.56 L446.71,2074.36 L447.88,2075.11 L449.07,2075.81 L450.28,2076.47 L451.52,2077.10 L452.80,2077.70 L454.18,2078.29 L455.61,2078.83 L457.08,2079.32 L458.57,2079.78 L460.07,2080.20 L461.59,2080.59 L463.10,2080.95 L464.60,2081.30 L466.08,2081.61 L467.56,2081.87 L469.04,2082.10 L470.53,2082.31 L472.03,2082.50 L473.52,2082.69 L475.01,2082.89 L476.50,2083.10" fill="none" stroke="#0505e0" stroke-width="2.1" stroke-dasharray="11.2 3.9 2.9 3.9" stroke-linejoin="round"/>
<text x="111.86" y="2120.60" text-anchor="middle" class="t">-100</text>
<text x="182.18" y="2120.60" text-anchor="middle" class="t">0</text>
<text x="252.49" y="2120.60" text-anchor="middle" class="t">100</text>
<text x="322.81" y="2120.60" text-anchor="middle" class="t">200</text>
<text x="393.12" y="2120.60" text-anchor="middle" class="t">300</text>
<text x="463.44" y="2120.60" text-anchor="middle" class="t">400</text>
<text x="63.40" y="2094.50" text-anchor="end" class="t">0</text>
<text x="63.40" y="2041.79" text-anchor="end" class="t">1</text>
<text x="63.40" y="1989.08" text-anchor="end" class="t">2</text>
<text x="63.40" y="1936.36" text-anchor="end" class="t">3</text>
<text x="63.40" y="1883.65" text-anchor="end" class="t">4</text>
<text x="63.40" y="1830.94" text-anchor="end" class="t">5</text>
<text x="63.40" y="1778.23" text-anchor="end" class="t">6</text>
<text x="63.40" y="1725.51" text-anchor="end" class="t">7</text>
<text x="63.40" y="1672.80" text-anchor="end" class="t">8</text>
<text x="287.65" y="2153.60" text-anchor="middle" class="t">Food Concentration (µg L<tspan dy="-11" font-size="16">-1</tspan><tspan dy="11">)</tspan></text>
<path d="M81.60,1649.80L91.40,1658.80M91.40,1649.80L81.60,1658.80" stroke="#262626" stroke-width="1.35" fill="none"/>
<text x="94.90" y="1659.60" class="t">10</text>
<text x="120.10" y="1648.70" class="t" style="font-size:15.5px">-3</text>
<text transform="translate(42.00,1874.45) rotate(-90)" text-anchor="middle" class="t">Density</text>
<text x="3" y="1629.2" class="L">G</text>
<path d="M659.6,1664.4H1081.1000000000001V2086.1H659.6ZM694.73,2086.1v6.5M694.73,1664.4v-6.5M764.98,2086.1v6.5M764.98,1664.4v-6.5M835.23,2086.1v6.5M835.23,1664.4v-6.5M905.48,2086.1v6.5M905.48,1664.4v-6.5M975.73,2086.1v6.5M975.73,1664.4v-6.5M1045.98,2086.1v6.5M1045.98,1664.4v-6.5M659.6,2086.10h-6.5M1081.1000000000001,2086.10h6.5M659.6,2033.39h-6.5M1081.1000000000001,2033.39h6.5M659.6,1980.67h-6.5M1081.1000000000001,1980.67h6.5M659.6,1927.96h-6.5M1081.1000000000001,1927.96h6.5M659.6,1875.25h-6.5M1081.1000000000001,1875.25h6.5M659.6,1822.54h-6.5M1081.1000000000001,1822.54h6.5M659.6,1769.83h-6.5M1081.1000000000001,1769.83h6.5M659.6,1717.11h-6.5M1081.1000000000001,1717.11h6.5M659.6,1664.40h-6.5M1081.1000000000001,1664.40h6.5" fill="none" stroke="#262626" stroke-width="1" stroke-opacity="0.48"/>
<path d="M660.40,2085.30 L662.17,2085.12 L663.95,2084.96 L665.72,2084.80 L667.50,2084.63 L669.27,2084.46 L671.05,2084.27 L672.82,2084.05 L674.60,2083.80 L676.41,2083.52 L678.23,2083.24 L680.05,2082.93 L681.87,2082.60 L683.68,2082.25 L685.50,2081.85 L687.30,2081.40 L689.10,2080.90 L690.95,2080.34 L692.80,2079.74 L694.64,2079.10 L696.48,2078.41 L698.31,2077.67 L700.12,2076.88 L701.92,2076.02 L703.70,2075.10 L705.58,2074.04 L707.46,2072.91 L709.33,2071.71 L711.19,2070.45 L713.01,2069.13 L714.79,2067.76 L716.53,2066.35 L718.20,2064.90 L719.80,2063.42 L721.33,2061.88 L722.82,2060.29 L724.27,2058.65 L725.69,2056.98 L727.09,2055.28 L728.49,2053.55 L729.90,2051.80 L731.41,2049.91 L732.92,2047.97 L734.42,2045.99 L735.91,2043.98 L737.37,2041.94 L738.79,2039.90 L740.18,2037.85 L741.50,2035.80 L742.71,2033.83 L743.86,2031.84 L744.97,2029.85 L746.05,2027.84 L747.11,2025.83 L748.16,2023.82 L749.22,2021.81 L750.30,2019.80 L751.39,2017.80 L752.49,2015.82 L753.58,2013.85 L754.67,2011.87 L755.76,2009.87 L756.84,2007.85 L757.92,2005.80 L759.00,2003.70 L760.15,2001.35 L761.29,1998.92 L762.42,1996.44 L763.55,1993.93 L764.68,1991.43 L765.83,1988.96 L767.00,1986.54 L768.20,1984.20 L769.35,1982.10 L770.53,1980.03 L771.72,1978.00 L772.93,1976.01 L774.14,1974.03 L775.35,1972.08 L776.54,1970.14 L777.70,1968.20 L778.76,1966.39 L779.81,1964.58 L780.84,1962.79 L781.87,1961.01 L782.89,1959.25 L783.92,1957.53 L784.95,1955.84 L786.00,1954.20 L786.95,1952.77 L787.90,1951.37 L788.86,1950.02 L789.81,1948.68 L790.77,1947.36 L791.74,1946.05 L792.72,1944.73 L793.70,1943.40 L794.70,1942.04 L795.70,1940.67 L796.70,1939.29 L797.72,1937.93 L798.74,1936.57 L799.77,1935.22 L800.83,1933.90 L801.90,1932.60 L802.97,1931.34 L804.05,1930.08 L805.15,1928.84 L806.26,1927.62 L807.39,1926.42 L808.54,1925.24 L809.71,1924.10 L810.90,1923.00 L812.09,1921.96 L813.28,1920.96 L814.50,1919.99 L815.73,1919.04 L816.99,1918.12 L818.29,1917.21 L819.62,1916.30 L821.00,1915.40 L822.61,1914.37 L824.27,1913.32 L825.99,1912.28 L827.74,1911.26 L829.53,1910.27 L831.34,1909.34 L833.17,1908.48 L835.00,1907.70 L836.83,1907.03 L838.69,1906.45 L840.57,1905.93 L842.47,1905.47 L844.38,1905.04 L846.30,1904.63 L848.20,1904.22 L850.10,1903.80 L851.97,1903.37 L853.86,1902.96 L855.75,1902.55 L857.65,1902.15 L859.52,1901.78 L861.38,1901.42 L863.21,1901.10 L865.00,1900.80 L866.56,1900.55 L868.10,1900.31 L869.61,1900.08 L871.11,1899.88 L872.59,1899.70 L874.06,1899.55 L875.53,1899.45 L877.00,1899.40 L878.40,1899.38 L879.78,1899.39 L881.15,1899.42 L882.52,1899.48 L883.89,1899.60 L885.25,1899.77 L886.62,1900.00 L888.00,1900.30 L889.53,1900.72 L891.08,1901.22 L892.63,1901.79 L894.19,1902.43 L895.73,1903.13 L897.26,1903.88 L898.75,1904.67 L900.20,1905.50 L901.64,1906.39 L903.04,1907.34 L904.43,1908.35 L905.78,1909.40 L907.11,1910.50 L908.43,1911.63 L909.72,1912.80 L911.00,1914.00 L912.32,1915.31 L913.62,1916.67 L914.89,1918.07 L916.15,1919.52 L917.38,1920.99 L918.60,1922.49 L919.80,1923.99 L921.00,1925.50 L922.19,1927.04 L923.35,1928.60 L924.49,1930.17 L925.62,1931.76 L926.74,1933.37 L927.87,1934.99 L929.02,1936.64 L930.20,1938.30 L931.51,1940.13 L932.85,1941.99 L934.21,1943.86 L935.58,1945.76 L936.95,1947.68 L938.32,1949.61 L939.67,1951.55 L941.00,1953.50 L942.34,1955.51 L943.67,1957.54 L944.99,1959.59 L946.30,1961.65 L947.60,1963.72 L948.90,1965.80 L950.20,1967.90 L951.50,1970.00 L952.83,1972.18 L954.16,1974.38 L955.49,1976.61 L956.81,1978.84 L958.13,1981.07 L959.45,1983.29 L960.77,1985.51 L962.10,1987.70 L963.41,1989.84 L964.72,1991.97 L966.04,1994.11 L967.36,1996.23 L968.68,1998.34 L969.97,2000.43 L971.25,2002.48 L972.50,2004.50 L973.60,2006.29 L974.67,2008.05 L975.73,2009.79 L976.77,2011.50 L977.81,2013.21 L978.86,2014.90 L979.92,2016.60 L981.00,2018.30 L982.10,2020.00 L983.20,2021.70 L984.30,2023.40 L985.42,2025.08 L986.54,2026.77 L987.68,2028.45 L988.83,2030.13 L990.00,2031.80 L991.21,2033.51 L992.43,2035.22 L993.67,2036.94 L994.92,2038.65 L996.18,2040.34 L997.45,2042.02 L998.72,2043.68 L1000.00,2045.30 L1001.23,2046.83 L1002.46,2048.35 L1003.69,2049.85 L1004.94,2051.33 L1006.19,2052.79 L1007.45,2054.22 L1008.72,2055.63 L1010.00,2057.00 L1011.22,2058.28 L1012.44,2059.54 L1013.68,2060.79 L1014.92,2062.00 L1016.17,2063.19 L1017.43,2064.34 L1018.71,2065.44 L1020.00,2066.50 L1021.22,2067.45 L1022.46,2068.36 L1023.71,2069.24 L1024.97,2070.09 L1026.24,2070.90 L1027.52,2071.67 L1028.81,2072.41 L1030.10,2073.10 L1031.33,2073.71 L1032.57,2074.28 L1033.81,2074.80 L1035.06,2075.30 L1036.32,2075.77 L1037.58,2076.22 L1038.84,2076.66 L1040.10,2077.10 L1041.34,2077.53 L1042.59,2077.94 L1043.83,2078.34 L1045.08,2078.72 L1046.33,2079.09 L1047.59,2079.44 L1048.84,2079.78 L1050.10,2080.10 L1051.34,2080.40 L1052.59,2080.68 L1053.84,2080.94 L1055.09,2081.19 L1056.34,2081.43 L1057.59,2081.66 L1058.85,2081.88 L1060.10,2082.10 L1061.34,2082.31 L1062.58,2082.52 L1063.82,2082.72 L1065.07,2082.91 L1066.31,2083.10 L1067.56,2083.27 L1068.83,2083.44 L1070.10,2083.60 L1071.45,2083.75 L1072.81,2083.89 L1074.18,2084.02 L1075.56,2084.14 L1076.95,2084.25 L1078.34,2084.36 L1079.72,2084.48 L1081.10,2084.60" fill="none" stroke="#16f4f5" stroke-width="2.9" stroke-linejoin="round"/>
<path d="M728.40,2085.30 L729.51,2084.77 L730.65,2084.28 L731.79,2083.81 L732.93,2083.32 L734.05,2082.81 L735.14,2082.25 L736.20,2081.62 L737.20,2080.90 L738.23,2080.04 L739.22,2079.12 L740.17,2078.13 L741.09,2077.08 L741.97,2075.96 L742.81,2074.78 L743.62,2073.53 L744.40,2072.20 L745.32,2070.37 L746.15,2068.38 L746.91,2066.25 L747.62,2064.03 L748.30,2061.73 L748.96,2059.39 L749.62,2057.04 L750.30,2054.70 L751.07,2052.09 L751.83,2049.40 L752.58,2046.65 L753.32,2043.87 L754.04,2041.08 L754.75,2038.31 L755.43,2035.57 L756.10,2032.90 L756.70,2030.46 L757.28,2028.02 L757.85,2025.61 L758.40,2023.22 L758.94,2020.85 L759.46,2018.50 L759.99,2016.19 L760.50,2013.90 L760.96,2011.82 L761.42,2009.74 L761.87,2007.67 L762.31,2005.63 L762.74,2003.63 L763.16,2001.68 L763.58,1999.80 L764.00,1998.00 L764.33,1996.64 L764.65,1995.36 L764.97,1994.12 L765.29,1992.92 L765.60,1991.72 L765.91,1990.52 L766.21,1989.28 L766.50,1988.00 L766.81,1986.54 L767.12,1985.04 L767.42,1983.51 L767.71,1981.96 L768.00,1980.42 L768.28,1978.88 L768.54,1977.37 L768.80,1975.90 L769.02,1974.59 L769.24,1973.31 L769.44,1972.05 L769.64,1970.80 L769.83,1969.55 L770.02,1968.29 L770.21,1967.01 L770.40,1965.70 L770.61,1964.23 L770.81,1962.72 L771.02,1961.18 L771.22,1959.63 L771.42,1958.08 L771.61,1956.55 L771.81,1955.05 L772.00,1953.60 L772.17,1952.35 L772.33,1951.14 L772.50,1949.94 L772.66,1948.77 L772.82,1947.59 L772.98,1946.41 L773.14,1945.22 L773.30,1944.00 L773.47,1942.68 L773.63,1941.35 L773.80,1940.01 L773.96,1938.66 L774.13,1937.30 L774.29,1935.94 L774.44,1934.57 L774.60,1933.20 L774.76,1931.79 L774.91,1930.37 L775.05,1928.94 L775.20,1927.50 L775.35,1926.07 L775.49,1924.64 L775.64,1923.21 L775.80,1921.80 L775.96,1920.43 L776.11,1919.07 L776.27,1917.72 L776.43,1916.37 L776.59,1915.02 L776.76,1913.66 L776.93,1912.29 L777.10,1910.90 L777.29,1909.42 L777.48,1907.93 L777.68,1906.42 L777.88,1904.91 L778.08,1903.39 L778.28,1901.86 L778.49,1900.33 L778.70,1898.80 L778.92,1897.23 L779.14,1895.68 L779.37,1894.12 L779.60,1892.56 L779.83,1890.98 L780.05,1889.36 L780.28,1887.71 L780.50,1886.00 L780.75,1883.91 L781.00,1881.75 L781.24,1879.55 L781.49,1877.29 L781.73,1875.00 L781.98,1872.68 L782.23,1870.35 L782.50,1868.00 L782.80,1865.42 L783.11,1862.82 L783.43,1860.19 L783.75,1857.53 L784.08,1854.83 L784.42,1852.10 L784.76,1849.32 L785.10,1846.50 L785.49,1843.23 L785.89,1839.86 L786.30,1836.42 L786.71,1832.94 L787.13,1829.45 L787.55,1825.98 L787.97,1822.55 L788.40,1819.20 L788.80,1816.13 L789.21,1813.09 L789.63,1810.09 L790.04,1807.11 L790.46,1804.14 L790.88,1801.17 L791.29,1798.19 L791.70,1795.20 L792.10,1792.19 L792.49,1789.16 L792.87,1786.14 L793.26,1783.11 L793.65,1780.09 L794.05,1777.08 L794.46,1774.08 L794.90,1771.10 L795.35,1768.16 L795.83,1765.18 L796.32,1762.19 L796.83,1759.21 L797.33,1756.30 L797.84,1753.47 L798.33,1750.76 L798.80,1748.20 L799.15,1746.35 L799.49,1744.57 L799.83,1742.85 L800.17,1741.18 L800.50,1739.57 L800.84,1738.00 L801.17,1736.48 L801.50,1735.00 L801.76,1733.87 L802.02,1732.80 L802.27,1731.77 L802.52,1730.77 L802.77,1729.77 L803.03,1728.76 L803.31,1727.71 L803.60,1726.60 L803.98,1725.19 L804.38,1723.71 L804.81,1722.17 L805.25,1720.62 L805.68,1719.06 L806.11,1717.52 L806.52,1716.03 L806.90,1714.60 L807.19,1713.43 L807.46,1712.29 L807.72,1711.18 L807.96,1710.09 L808.22,1709.01 L808.48,1707.93 L808.77,1706.87 L809.10,1705.80 L809.45,1704.72 L809.81,1703.61 L810.19,1702.50 L810.59,1701.40 L811.00,1700.33 L811.44,1699.33 L811.91,1698.41 L812.40,1697.60 L812.77,1697.06 L813.16,1696.53 L813.56,1696.02 L813.97,1695.56 L814.39,1695.15 L814.82,1694.81 L815.26,1694.55 L815.70,1694.40 L816.08,1694.36 L816.48,1694.39 L816.88,1694.49 L817.28,1694.64 L817.69,1694.83 L818.09,1695.05 L818.50,1695.27 L818.90,1695.50 L819.39,1695.78 L819.90,1696.08 L820.40,1696.41 L820.91,1696.77 L821.40,1697.17 L821.89,1697.62 L822.36,1698.13 L822.80,1698.70 L823.45,1699.77 L824.06,1701.04 L824.63,1702.48 L825.17,1704.02 L825.68,1705.62 L826.17,1707.22 L826.64,1708.76 L827.10,1710.20 L827.49,1711.40 L827.84,1712.56 L828.18,1713.70 L828.50,1714.83 L828.82,1715.96 L829.14,1717.11 L829.46,1718.29 L829.80,1719.50 L830.21,1720.93 L830.63,1722.40 L831.06,1723.90 L831.50,1725.42 L831.93,1726.95 L832.34,1728.48 L832.74,1730.00 L833.10,1731.50 L833.42,1732.91 L833.71,1734.29 L833.97,1735.66 L834.23,1737.04 L834.48,1738.42 L834.74,1739.84 L835.01,1741.29 L835.30,1742.80 L835.68,1744.71 L836.09,1746.72 L836.52,1748.80 L836.95,1750.92 L837.39,1753.04 L837.81,1755.13 L838.22,1757.16 L838.60,1759.10 L838.90,1760.68 L839.17,1762.19 L839.44,1763.67 L839.69,1765.12 L839.95,1766.58 L840.22,1768.04 L840.50,1769.54 L840.80,1771.10 L841.17,1772.92 L841.57,1774.78 L841.98,1776.68 L842.40,1778.60 L842.83,1780.54 L843.26,1782.49 L843.69,1784.45 L844.10,1786.40 L844.52,1788.42 L844.94,1790.46 L845.35,1792.51 L845.76,1794.56 L846.17,1796.62 L846.58,1798.69 L846.99,1800.75 L847.40,1802.80 L847.80,1804.85 L848.20,1806.90 L848.60,1808.95 L849.00,1811.00 L849.40,1813.05 L849.80,1815.10 L850.20,1817.15 L850.60,1819.20 L851.00,1821.25 L851.39,1823.30 L851.78,1825.36 L852.18,1827.41 L852.58,1829.46 L853.00,1831.51 L853.44,1833.56 L853.90,1835.60 L854.40,1837.66 L854.93,1839.71 L855.47,1841.76 L856.04,1843.81 L856.61,1845.86 L857.18,1847.91 L857.75,1849.95 L858.30,1852.00 L858.84,1854.05 L859.37,1856.11 L859.90,1858.17 L860.43,1860.23 L860.96,1862.28 L861.50,1864.31 L862.04,1866.32 L862.60,1868.30 L863.13,1870.13 L863.67,1871.94 L864.22,1873.73 L864.77,1875.51 L865.32,1877.27 L865.88,1879.02 L866.44,1880.76 L867.00,1882.50 L867.54,1884.14 L868.08,1885.74 L868.62,1887.31 L869.17,1888.88 L869.72,1890.47 L870.27,1892.11 L870.83,1893.81 L871.40,1895.60 L872.12,1897.98 L872.84,1900.45 L873.56,1903.02 L874.29,1905.66 L875.04,1908.37 L875.80,1911.14 L876.59,1913.95 L877.40,1916.80 L878.40,1920.25 L879.45,1923.82 L880.54,1927.48 L881.65,1931.20 L882.77,1934.97 L883.89,1938.74 L885.01,1942.49 L886.10,1946.20 L887.18,1949.88 L888.25,1953.57 L889.32,1957.27 L890.38,1960.96 L891.45,1964.64 L892.53,1968.32 L893.61,1971.97 L894.70,1975.60 L895.77,1979.12 L896.84,1982.64 L897.92,1986.14 L899.00,1989.63 L900.09,1993.10 L901.19,1996.54 L902.29,1999.94 L903.40,2003.30 L904.44,2006.42 L905.47,2009.51 L906.51,2012.56 L907.55,2015.59 L908.61,2018.60 L909.70,2021.58 L910.83,2024.55 L912.00,2027.50 L913.20,2030.40 L914.44,2033.30 L915.71,2036.19 L917.00,2039.05 L918.33,2041.88 L919.67,2044.66 L921.03,2047.37 L922.40,2050.00 L923.64,2052.33 L924.89,2054.63 L926.15,2056.90 L927.43,2059.12 L928.72,2061.27 L930.05,2063.35 L931.41,2065.33 L932.80,2067.20 L934.01,2068.72 L935.25,2070.19 L936.50,2071.60 L937.78,2072.95 L939.07,2074.23 L940.39,2075.43 L941.73,2076.56 L943.10,2077.60 L944.34,2078.45 L945.59,2079.23 L946.86,2079.95 L948.15,2080.60 L949.45,2081.21 L950.78,2081.78 L952.13,2082.30 L953.50,2082.80 L954.95,2083.26 L956.43,2083.65 L957.94,2083.98 L959.46,2084.28 L961.00,2084.55 L962.54,2084.82 L964.08,2085.09 L965.60,2085.40" fill="none" stroke="#16f4f5" stroke-width="2.1" stroke-dasharray="13.6 8.4" stroke-linejoin="round"/>
<path d="M732.80,2083.80 L734.11,2083.29 L735.46,2082.83 L736.82,2082.39 L738.18,2081.94 L739.50,2081.45 L740.77,2080.88 L741.94,2080.21 L743.00,2079.40 L743.96,2078.43 L744.81,2077.35 L745.57,2076.18 L746.26,2074.91 L746.91,2073.58 L747.53,2072.19 L748.16,2070.76 L748.80,2069.30 L749.60,2067.37 L750.37,2065.30 L751.09,2063.13 L751.80,2060.88 L752.49,2058.60 L753.18,2056.30 L753.88,2054.02 L754.60,2051.80 L755.33,2049.61 L756.06,2047.40 L756.80,2045.20 L757.54,2043.00 L758.27,2040.80 L759.01,2038.61 L759.75,2036.45 L760.50,2034.30 L761.22,2032.27 L761.95,2030.28 L762.68,2028.31 L763.42,2026.34 L764.15,2024.37 L764.88,2022.39 L765.59,2020.37 L766.30,2018.30 L767.05,2015.99 L767.80,2013.61 L768.53,2011.18 L769.26,2008.73 L769.99,2006.29 L770.70,2003.91 L771.40,2001.60 L772.10,1999.40 L772.66,1997.66 L773.19,1995.97 L773.71,1994.32 L774.23,1992.71 L774.75,1991.13 L775.30,1989.58 L775.88,1988.03 L776.50,1986.50 L777.15,1985.04 L777.84,1983.61 L778.56,1982.20 L779.30,1980.80 L780.05,1979.42 L780.79,1978.05 L781.51,1976.67 L782.20,1975.30 L782.83,1973.99 L783.44,1972.69 L784.04,1971.39 L784.63,1970.10 L785.21,1968.81 L785.80,1967.53 L786.40,1966.26 L787.00,1965.00 L787.58,1963.79 L788.15,1962.58 L788.72,1961.39 L789.29,1960.20 L789.88,1959.01 L790.49,1957.84 L791.12,1956.67 L791.80,1955.50 L792.55,1954.28 L793.33,1953.05 L794.14,1951.81 L794.97,1950.59 L795.83,1949.39 L796.70,1948.22 L797.59,1947.09 L798.50,1946.00 L799.38,1945.05 L800.32,1944.16 L801.29,1943.31 L802.27,1942.48 L803.23,1941.66 L804.16,1940.81 L805.02,1939.93 L805.80,1939.00 L806.46,1938.06 L807.06,1937.07 L807.61,1936.05 L808.13,1935.02 L808.62,1933.99 L809.08,1932.96 L809.54,1931.96 L810.00,1931.00 L810.39,1930.22 L810.77,1929.47 L811.13,1928.75 L811.49,1928.03 L811.83,1927.30 L812.16,1926.55 L812.48,1925.75 L812.80,1924.90 L813.19,1923.69 L813.55,1922.39 L813.89,1921.03 L814.22,1919.61 L814.54,1918.18 L814.86,1916.75 L815.18,1915.35 L815.50,1914.00 L815.80,1912.78 L816.11,1911.58 L816.41,1910.38 L816.71,1909.20 L817.00,1908.02 L817.30,1906.87 L817.60,1905.72 L817.90,1904.60 L818.18,1903.63 L818.45,1902.72 L818.73,1901.84 L819.01,1900.97 L819.29,1900.07 L819.57,1899.11 L819.84,1898.06 L820.10,1896.90 L820.52,1894.61 L820.92,1891.99 L821.29,1889.12 L821.66,1886.09 L822.03,1882.96 L822.42,1879.81 L822.84,1876.74 L823.30,1873.80 L823.80,1871.04 L824.34,1868.30 L824.91,1865.58 L825.49,1862.86 L826.07,1860.15 L826.65,1857.44 L827.19,1854.73 L827.70,1852.00 L828.16,1849.27 L828.60,1846.53 L829.02,1843.80 L829.42,1841.06 L829.81,1838.32 L830.20,1835.57 L830.59,1832.84 L831.00,1830.10 L831.41,1827.36 L831.82,1824.62 L832.23,1821.87 L832.65,1819.13 L833.06,1816.39 L833.47,1813.67 L833.88,1810.97 L834.30,1808.30 L834.70,1805.79 L835.09,1803.30 L835.49,1800.84 L835.89,1798.38 L836.29,1795.94 L836.69,1793.50 L837.09,1791.05 L837.50,1788.60 L837.91,1786.13 L838.34,1783.64 L838.77,1781.14 L839.20,1778.65 L839.62,1776.17 L840.03,1773.73 L840.43,1771.34 L840.80,1769.00 L841.10,1767.00 L841.37,1765.05 L841.63,1763.15 L841.88,1761.26 L842.13,1759.39 L842.40,1757.51 L842.68,1755.62 L843.00,1753.70 L843.35,1751.66 L843.72,1749.59 L844.10,1747.50 L844.49,1745.40 L844.91,1743.32 L845.34,1741.27 L845.81,1739.25 L846.30,1737.30 L846.77,1735.52 L847.25,1733.69 L847.75,1731.85 L848.26,1730.06 L848.81,1728.35 L849.37,1726.77 L849.97,1725.38 L850.60,1724.20 L850.98,1723.59 L851.37,1723.00 L851.77,1722.44 L852.18,1721.94 L852.60,1721.51 L853.03,1721.19 L853.46,1720.97 L853.90,1720.90 L854.43,1721.01 L854.99,1721.31 L855.58,1721.77 L856.16,1722.36 L856.74,1723.04 L857.30,1723.78 L857.83,1724.54 L858.30,1725.30 L858.86,1726.38 L859.35,1727.58 L859.78,1728.88 L860.17,1730.27 L860.53,1731.72 L860.88,1733.20 L861.23,1734.70 L861.60,1736.20 L862.04,1737.97 L862.45,1739.80 L862.86,1741.67 L863.26,1743.58 L863.65,1745.53 L864.03,1747.50 L864.41,1749.50 L864.80,1751.50 L865.22,1753.74 L865.64,1756.02 L866.05,1758.34 L866.46,1760.69 L866.87,1763.05 L867.28,1765.41 L867.69,1767.76 L868.10,1770.10 L868.51,1772.41 L868.93,1774.71 L869.34,1777.01 L869.76,1779.32 L870.17,1781.62 L870.58,1783.93 L870.99,1786.26 L871.40,1788.60 L871.82,1791.06 L872.23,1793.56 L872.65,1796.10 L873.06,1798.64 L873.47,1801.15 L873.88,1803.61 L874.29,1806.01 L874.70,1808.30 L875.03,1810.12 L875.35,1811.84 L875.66,1813.51 L875.97,1815.14 L876.29,1816.78 L876.63,1818.45 L877.00,1820.18 L877.40,1822.00 L877.95,1824.38 L878.55,1826.86 L879.19,1829.43 L879.86,1832.05 L880.54,1834.70 L881.24,1837.34 L881.93,1839.95 L882.60,1842.50 L883.22,1844.95 L883.81,1847.42 L884.39,1849.90 L884.98,1852.36 L885.60,1854.78 L886.27,1857.12 L886.99,1859.37 L887.80,1861.50 L888.53,1863.21 L889.29,1864.88 L890.09,1866.50 L890.92,1868.06 L891.79,1869.56 L892.71,1870.98 L893.68,1872.33 L894.70,1873.60 L895.69,1874.63 L896.75,1875.54 L897.87,1876.38 L899.01,1877.17 L900.16,1877.94 L901.30,1878.73 L902.38,1879.58 L903.40,1880.50 L904.36,1881.48 L905.30,1882.48 L906.22,1883.50 L907.10,1884.55 L907.95,1885.64 L908.77,1886.77 L909.56,1887.95 L910.30,1889.20 L911.10,1890.71 L911.82,1892.31 L912.50,1893.97 L913.13,1895.69 L913.73,1897.47 L914.32,1899.28 L914.90,1901.13 L915.50,1903.00 L916.19,1905.21 L916.85,1907.48 L917.50,1909.81 L918.13,1912.19 L918.75,1914.61 L919.37,1917.05 L919.98,1919.52 L920.60,1922.00 L921.27,1924.71 L921.93,1927.46 L922.58,1930.25 L923.23,1933.07 L923.88,1935.91 L924.52,1938.77 L925.16,1941.63 L925.80,1944.50 L926.46,1947.48 L927.11,1950.49 L927.76,1953.51 L928.41,1956.54 L929.06,1959.58 L929.70,1962.63 L930.35,1965.67 L931.00,1968.70 L931.65,1971.72 L932.30,1974.75 L932.95,1977.78 L933.60,1980.80 L934.25,1983.83 L934.90,1986.85 L935.55,1989.88 L936.20,1992.90 L936.84,1995.92 L937.47,1998.93 L938.09,2001.95 L938.71,2004.96 L939.35,2007.98 L940.00,2011.00 L940.68,2014.04 L941.40,2017.10 L942.17,2020.32 L942.96,2023.58 L943.77,2026.86 L944.61,2030.14 L945.48,2033.42 L946.38,2036.67 L947.32,2039.86 L948.30,2043.00 L949.27,2045.95 L950.28,2048.91 L951.32,2051.86 L952.40,2054.77 L953.50,2057.61 L954.64,2060.36 L955.80,2063.00 L957.00,2065.50 L957.99,2067.48 L959.00,2069.43 L960.01,2071.34 L961.05,2073.17 L962.13,2074.90 L963.24,2076.51 L964.39,2077.99 L965.60,2079.30 L966.59,2080.22 L967.62,2081.05 L968.67,2081.81 L969.75,2082.48 L970.85,2083.09 L971.96,2083.62 L973.08,2084.09 L974.20,2084.50 L975.26,2084.80 L976.33,2084.99 L977.41,2085.12 L978.51,2085.19 L979.61,2085.23 L980.71,2085.26 L981.81,2085.31 L982.90,2085.40" fill="none" stroke="#16f4f5" stroke-width="2.1" stroke-dasharray="11.2 3.9 2.9 3.9" stroke-linejoin="round"/>
<text x="694.73" y="2120.60" text-anchor="middle" class="t">-100</text>
<text x="764.98" y="2120.60" text-anchor="middle" class="t">0</text>
<text x="835.23" y="2120.60" text-anchor="middle" class="t">100</text>
<text x="905.48" y="2120.60" text-anchor="middle" class="t">200</text>
<text x="975.73" y="2120.60" text-anchor="middle" class="t">300</text>
<text x="1045.98" y="2120.60" text-anchor="middle" class="t">400</text>
<text x="645.30" y="2094.50" text-anchor="end" class="t">0</text>
<text x="645.30" y="2041.79" text-anchor="end" class="t">1</text>
<text x="645.30" y="1989.08" text-anchor="end" class="t">2</text>
<text x="645.30" y="1936.36" text-anchor="end" class="t">3</text>
<text x="645.30" y="1883.65" text-anchor="end" class="t">4</text>
<text x="645.30" y="1830.94" text-anchor="end" class="t">5</text>
<text x="645.30" y="1778.23" text-anchor="end" class="t">6</text>
<text x="645.30" y="1725.51" text-anchor="end" class="t">7</text>
<text x="645.30" y="1672.80" text-anchor="end" class="t">8</text>
<text x="870.35" y="2153.60" text-anchor="middle" class="t">Food Concentration (µg L<tspan dy="-11" font-size="16">-1</tspan><tspan dy="11">)</tspan></text>
<path d="M664.50,1649.80L674.30,1658.80M674.30,1649.80L664.50,1658.80" stroke="#262626" stroke-width="1.35" fill="none"/>
<text x="677.80" y="1659.60" class="t">10</text>
<text x="703.00" y="1648.70" class="t" style="font-size:15.5px">-3</text>
<text transform="translate(624.90,1874.45) rotate(-90)" text-anchor="middle" class="t">Density</text>
<text x="589" y="1629.6" class="L">H</text>
<path d="M355.3,78.4H397.5" stroke="#0505e0" stroke-width="2.9"/>
<text x="402.0" y="85.9" class="lg">cohort-1</text>
<path d="M355.3,102.9H397.5" stroke="#0505e0" stroke-width="2.3" stroke-dasharray="13.7 8.2"/>
<text x="402.0" y="109.9" class="lg">cohort-2</text>
<path d="M355.3,127.4H397.5" stroke="#0505e0" stroke-width="2.3" stroke-dasharray="11 4.2 3 3.7"/>
<text x="402.0" y="133.9" class="lg">cohort-3</text>
<path d="M938.2,78.4H980.4" stroke="#16f4f5" stroke-width="2.9"/>
<text x="984.9" y="85.9" class="lg">cohort-1</text>
<path d="M938.2,102.9H980.4" stroke="#16f4f5" stroke-width="2.3" stroke-dasharray="13.7 8.2"/>
<text x="984.9" y="109.9" class="lg">cohort-2</text>
<path d="M938.2,127.4H980.4" stroke="#16f4f5" stroke-width="2.3" stroke-dasharray="11 4.2 3 3.7"/>
<text x="984.9" y="133.9" class="lg">cohort-3</text>
</svg>
</body></html>
